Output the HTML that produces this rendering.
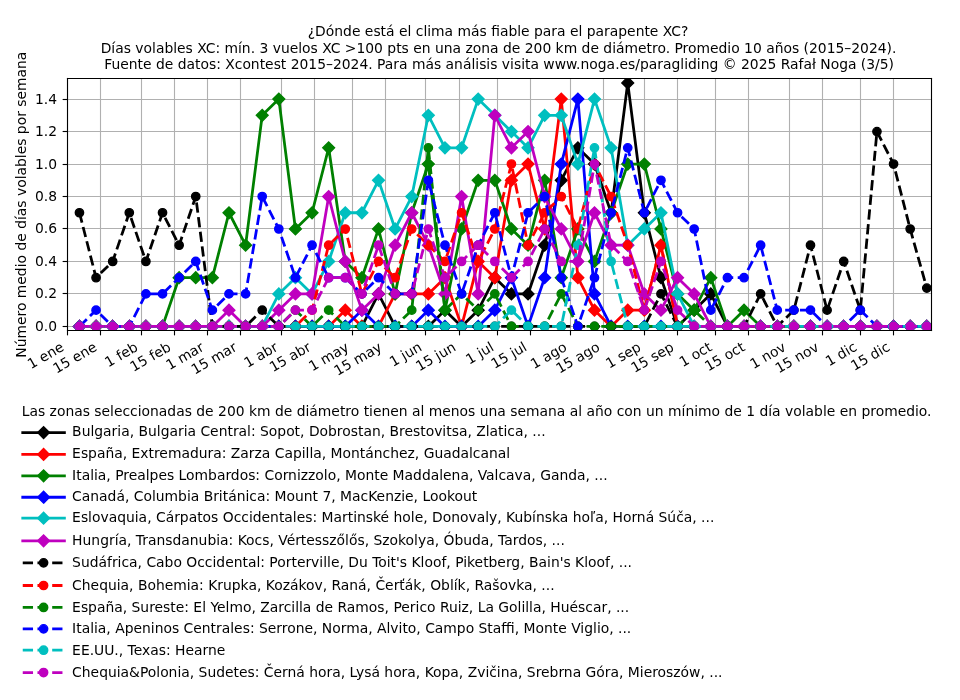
<!DOCTYPE html>
<html><head><meta charset="utf-8"><title>Parapente XC</title>
<style>
html,body{margin:0;padding:0;background:#fff;width:960px;height:700px;overflow:hidden}
svg{display:block;will-change:transform}
svg text{font-family:"DejaVu Sans","Liberation Sans",sans-serif}
</style></head><body>
<svg width="960" height="700" viewBox="0 0 691.2 504" version="1.1">
 <defs>
  <style type="text/css">*{stroke-linejoin: round; stroke-linecap: butt}</style>
 </defs>
 <g id="figure_1">
  <g id="patch_1">
   <path d="M 0 504 
L 691.2 504 
L 691.2 0 
L 0 0 
z
" style="fill: #ffffff"/>
  </g>
  <g id="axes_1">
   <g id="patch_2">
    <path d="M 48.6 237.96 
L 670.68 237.96 
L 670.68 56.52 
L 48.6 56.52 
z
" style="fill: #ffffff"/>
   </g>
   <g id="matplotlib.axis_1">
    <g id="xtick_1">
     <g id="line2d_1">
      <path d="M 48.6 237.96 
L 48.6 56.52 
" clip-path="url(#p76684aa1a0)" style="fill: none; stroke: #b0b0b0; stroke-width: 0.8; stroke-linecap: square"/>
     </g>
     <g id="line2d_2">
      <g>
       <path d="M48.6 237.96L48.6 241.46" style="stroke: #000000; stroke-width: 0.8"/>
      </g>
     </g>
     <g id="xtl0" transform="translate(-0.792 0.288)">
      <text style="font-size: 10px; font-family: 'DejaVu Sans', 'Liberation Sans', sans-serif" transform="translate(23.151772 265.632627) rotate(-30)">1 ene</text>
     </g>
    </g>
    <g id="xtick_2">
     <g id="line2d_3">
      <path d="M 72.36 237.96 
L 72.36 56.52 
" clip-path="url(#p76684aa1a0)" style="fill: none; stroke: #b0b0b0; stroke-width: 0.8; stroke-linecap: square"/>
     </g>
     <g id="line2d_4">
      <g>
       <path d="M72.36 237.96L72.36 241.46" style="stroke: #000000; stroke-width: 0.8"/>
      </g>
     </g>
     <g id="xtl1" transform="translate(-0.792 0.288)">
      <text style="font-size: 10px; font-family: 'DejaVu Sans', 'Liberation Sans', sans-serif" transform="translate(41.401685 268.813877) rotate(-30)">15 ene</text>
     </g>
    </g>
    <g id="xtick_3">
     <g id="line2d_5">
      <path d="M 101.88 237.96 
L 101.88 56.52 
" clip-path="url(#p76684aa1a0)" style="fill: none; stroke: #b0b0b0; stroke-width: 0.8; stroke-linecap: square"/>
     </g>
     <g id="line2d_6">
      <g>
       <path d="M101.88 237.96L101.88 241.46" style="stroke: #000000; stroke-width: 0.8"/>
      </g>
     </g>
     <g id="xtl2" transform="translate(-0.792 0.288)">
      <text style="font-size: 10px; font-family: 'DejaVu Sans', 'Liberation Sans', sans-serif" transform="translate(78.702382 264.32169) rotate(-30)">1 feb</text>
     </g>
    </g>
    <g id="xtick_4">
     <g id="line2d_7">
      <path d="M 125.64 237.96 
L 125.64 56.52 
" clip-path="url(#p76684aa1a0)" style="fill: none; stroke: #b0b0b0; stroke-width: 0.8; stroke-linecap: square"/>
     </g>
     <g id="line2d_8">
      <g>
       <path d="M125.64 237.96L125.64 241.46" style="stroke: #000000; stroke-width: 0.8"/>
      </g>
     </g>
     <g id="xtl3" transform="translate(-0.792 0.288)">
      <text style="font-size: 10px; font-family: 'DejaVu Sans', 'Liberation Sans', sans-serif" transform="translate(96.952295 267.50294) rotate(-30)">15 feb</text>
     </g>
    </g>
    <g id="xtick_5">
     <g id="line2d_9">
      <path d="M 149.4 237.96 
L 149.4 56.52 
" clip-path="url(#p76684aa1a0)" style="fill: none; stroke: #b0b0b0; stroke-width: 0.8; stroke-linecap: square"/>
     </g>
     <g id="line2d_10">
      <g>
       <path d="M149.4 237.96L149.4 241.46" style="stroke: #000000; stroke-width: 0.8"/>
      </g>
     </g>
     <g id="xtl4" transform="translate(-0.792 0.288)">
      <text style="font-size: 10px; font-family: 'DejaVu Sans', 'Liberation Sans', sans-serif" transform="translate(122.794816 266.300596) rotate(-30)">1 mar</text>
     </g>
    </g>
    <g id="xtick_6">
     <g id="line2d_11">
      <path d="M 173.16 237.96 
L 173.16 56.52 
" clip-path="url(#p76684aa1a0)" style="fill: none; stroke: #b0b0b0; stroke-width: 0.8; stroke-linecap: square"/>
     </g>
     <g id="line2d_12">
      <g>
       <path d="M173.16 237.96L173.16 241.46" style="stroke: #000000; stroke-width: 0.8"/>
      </g>
     </g>
     <g id="xtl5" transform="translate(-0.792 0.288)">
      <text style="font-size: 10px; font-family: 'DejaVu Sans', 'Liberation Sans', sans-serif" transform="translate(141.044729 269.481846) rotate(-30)">15 mar</text>
     </g>
    </g>
    <g id="xtick_7">
     <g id="line2d_13">
      <path d="M 202.68 237.96 
L 202.68 56.52 
" clip-path="url(#p76684aa1a0)" style="fill: none; stroke: #b0b0b0; stroke-width: 0.8; stroke-linecap: square"/>
     </g>
     <g id="line2d_14">
      <g>
       <path d="M202.68 237.96L202.68 241.46" style="stroke: #000000; stroke-width: 0.8"/>
      </g>
     </g>
     <g id="xtl6" transform="translate(-0.792 0.288)">
      <text style="font-size: 10px; font-family: 'DejaVu Sans', 'Liberation Sans', sans-serif" transform="translate(179.012536 264.604502) rotate(-30)">1 abr</text>
     </g>
    </g>
    <g id="xtick_8">
     <g id="line2d_15">
      <path d="M 226.44 237.96 
L 226.44 56.52 
" clip-path="url(#p76684aa1a0)" style="fill: none; stroke: #b0b0b0; stroke-width: 0.8; stroke-linecap: square"/>
     </g>
     <g id="line2d_16">
      <g>
       <path d="M226.44 237.96L226.44 241.46" style="stroke: #000000; stroke-width: 0.8"/>
      </g>
     </g>
     <g id="xtl7" transform="translate(-0.792 0.288)">
      <text style="font-size: 10px; font-family: 'DejaVu Sans', 'Liberation Sans', sans-serif" transform="translate(197.26245 267.785752) rotate(-30)">15 abr</text>
     </g>
    </g>
    <g id="xtick_9">
     <g id="line2d_17">
      <path d="M 253.8 237.96 
L 253.8 56.52 
" clip-path="url(#p76684aa1a0)" style="fill: none; stroke: #b0b0b0; stroke-width: 0.8; stroke-linecap: square"/>
     </g>
     <g id="line2d_18">
      <g>
       <path d="M253.8 237.96L253.8 241.46" style="stroke: #000000; stroke-width: 0.8"/>
      </g>
     </g>
     <g id="xtl8" transform="translate(-0.792 0.288)">
      <text style="font-size: 10px; font-family: 'DejaVu Sans', 'Liberation Sans', sans-serif" transform="translate(225.629204 267.204502) rotate(-30)">1 may</text>
     </g>
    </g>
    <g id="xtick_10">
     <g id="line2d_19">
      <path d="M 277.56 237.96 
L 277.56 56.52 
" clip-path="url(#p76684aa1a0)" style="fill: none; stroke: #b0b0b0; stroke-width: 0.8; stroke-linecap: square"/>
     </g>
     <g id="line2d_20">
      <g>
       <path d="M277.56 237.96L277.56 241.46" style="stroke: #000000; stroke-width: 0.8"/>
      </g>
     </g>
     <g id="xtl9" transform="translate(-0.792 0.288)">
      <text style="font-size: 10px; font-family: 'DejaVu Sans', 'Liberation Sans', sans-serif" transform="translate(243.879118 270.385752) rotate(-30)">15 may</text>
     </g>
    </g>
    <g id="xtick_11">
     <g id="line2d_21">
      <path d="M 306.36 237.96 
L 306.36 56.52 
" clip-path="url(#p76684aa1a0)" style="fill: none; stroke: #b0b0b0; stroke-width: 0.8; stroke-linecap: square"/>
     </g>
     <g id="line2d_22">
      <g>
       <path d="M306.36 237.96L306.36 241.46" style="stroke: #000000; stroke-width: 0.8"/>
      </g>
     </g>
     <g id="xtl10" transform="translate(-0.792 0.288)">
      <text style="font-size: 10px; font-family: 'DejaVu Sans', 'Liberation Sans', sans-serif" transform="translate(283.674934 264.037315) rotate(-30)">1 jun</text>
     </g>
    </g>
    <g id="xtick_12">
     <g id="line2d_23">
      <path d="M 330.84 237.96 
L 330.84 56.52 
" clip-path="url(#p76684aa1a0)" style="fill: none; stroke: #b0b0b0; stroke-width: 0.8; stroke-linecap: square"/>
     </g>
     <g id="line2d_24">
      <g>
       <path d="M330.84 237.96L330.84 241.46" style="stroke: #000000; stroke-width: 0.8"/>
      </g>
     </g>
     <g id="xtl11" transform="translate(-0.792 0.288)">
      <text style="font-size: 10px; font-family: 'DejaVu Sans', 'Liberation Sans', sans-serif" transform="translate(302.644847 267.218565) rotate(-30)">15 jun</text>
     </g>
    </g>
    <g id="xtick_13">
     <g id="line2d_25">
      <path d="M 358.2 237.96 
L 358.2 56.52 
" clip-path="url(#p76684aa1a0)" style="fill: none; stroke: #b0b0b0; stroke-width: 0.8; stroke-linecap: square"/>
     </g>
     <g id="line2d_26">
      <g>
       <path d="M358.2 237.96L358.2 241.46" style="stroke: #000000; stroke-width: 0.8"/>
      </g>
     </g>
     <g id="xtl12" transform="translate(-0.792 0.288)">
      <text style="font-size: 10px; font-family: 'DejaVu Sans', 'Liberation Sans', sans-serif" transform="translate(338.597443 262.257627) rotate(-30)">1 jul</text>
     </g>
    </g>
    <g id="xtick_14">
     <g id="line2d_27">
      <path d="M 381.96 237.96 
L 381.96 56.52 
" clip-path="url(#p76684aa1a0)" style="fill: none; stroke: #b0b0b0; stroke-width: 0.8; stroke-linecap: square"/>
     </g>
     <g id="line2d_28">
      <g>
       <path d="M381.96 237.96L381.96 241.46" style="stroke: #000000; stroke-width: 0.8"/>
      </g>
     </g>
     <g id="xtl13" transform="translate(-0.792 0.288)">
      <text style="font-size: 10px; font-family: 'DejaVu Sans', 'Liberation Sans', sans-serif" transform="translate(356.847356 265.438877) rotate(-30)">15 jul</text>
     </g>
    </g>
    <g id="xtick_15">
     <g id="line2d_29">
      <path d="M 410.76 237.96 
L 410.76 56.52 
" clip-path="url(#p76684aa1a0)" style="fill: none; stroke: #b0b0b0; stroke-width: 0.8; stroke-linecap: square"/>
     </g>
     <g id="line2d_30">
      <g>
       <path d="M410.76 237.96L410.76 241.46" style="stroke: #000000; stroke-width: 0.8"/>
      </g>
     </g>
     <g id="xtl14" transform="translate(-0.792 0.288)">
      <text style="font-size: 10px; font-family: 'DejaVu Sans', 'Liberation Sans', sans-serif" transform="translate(385.35372 265.608409) rotate(-30)">1 ago</text>
     </g>
    </g>
    <g id="xtick_16">
     <g id="line2d_31">
      <path d="M 434.52 237.96 
L 434.52 56.52 
" clip-path="url(#p76684aa1a0)" style="fill: none; stroke: #b0b0b0; stroke-width: 0.8; stroke-linecap: square"/>
     </g>
     <g id="line2d_32">
      <g>
       <path d="M434.52 237.96L434.52 241.46" style="stroke: #000000; stroke-width: 0.8"/>
      </g>
     </g>
     <g id="xtl15" transform="translate(-0.792 0.288)">
      <text style="font-size: 10px; font-family: 'DejaVu Sans', 'Liberation Sans', sans-serif" transform="translate(403.603633 268.789659) rotate(-30)">15 ago</text>
     </g>
    </g>
    <g id="xtick_17">
     <g id="line2d_33">
      <path d="M 464.04 237.96 
L 464.04 56.52 
" clip-path="url(#p76684aa1a0)" style="fill: none; stroke: #b0b0b0; stroke-width: 0.8; stroke-linecap: square"/>
     </g>
     <g id="line2d_34">
      <g>
       <path d="M464.04 237.96L464.04 241.46" style="stroke: #000000; stroke-width: 0.8"/>
      </g>
     </g>
     <g id="xtl16" transform="translate(-0.792 0.288)">
      <text style="font-size: 10px; font-family: 'DejaVu Sans', 'Liberation Sans', sans-serif" transform="translate(439.399611 265.166221) rotate(-30)">1 sep</text>
     </g>
    </g>
    <g id="xtick_18">
     <g id="line2d_35">
      <path d="M 487.8 237.96 
L 487.8 56.52 
" clip-path="url(#p76684aa1a0)" style="fill: none; stroke: #b0b0b0; stroke-width: 0.8; stroke-linecap: square"/>
     </g>
     <g id="line2d_36">
      <g>
       <path d="M487.8 237.96L487.8 241.46" style="stroke: #000000; stroke-width: 0.8"/>
      </g>
     </g>
     <g id="xtl17" transform="translate(-0.792 0.288)">
      <text style="font-size: 10px; font-family: 'DejaVu Sans', 'Liberation Sans', sans-serif" transform="translate(457.649524 268.347471) rotate(-30)">15 sep</text>
     </g>
    </g>
    <g id="xtick_19">
     <g id="line2d_37">
      <path d="M 515.16 237.96 
L 515.16 56.52 
" clip-path="url(#p76684aa1a0)" style="fill: none; stroke: #b0b0b0; stroke-width: 0.8; stroke-linecap: square"/>
     </g>
     <g id="line2d_38">
      <g>
       <path d="M515.16 237.96L515.16 241.46" style="stroke: #000000; stroke-width: 0.8"/>
      </g>
     </g>
     <g id="xtl18" transform="translate(-0.792 0.288)">
      <text style="font-size: 10px; font-family: 'DejaVu Sans', 'Liberation Sans', sans-serif" transform="translate(492.401863 264.079502) rotate(-30)">1 oct</text>
     </g>
    </g>
    <g id="xtick_20">
     <g id="line2d_39">
      <path d="M 538.92 237.96 
L 538.92 56.52 
" clip-path="url(#p76684aa1a0)" style="fill: none; stroke: #b0b0b0; stroke-width: 0.8; stroke-linecap: square"/>
     </g>
     <g id="line2d_40">
      <g>
       <path d="M538.92 237.96L538.92 241.46" style="stroke: #000000; stroke-width: 0.8"/>
      </g>
     </g>
     <g id="xtl19" transform="translate(-0.792 0.288)">
      <text style="font-size: 10px; font-family: 'DejaVu Sans', 'Liberation Sans', sans-serif" transform="translate(510.651776 267.260752) rotate(-30)">15 oct</text>
     </g>
    </g>
    <g id="xtick_21">
     <g id="line2d_41">
      <path d="M 568.44 237.96 
L 568.44 56.52 
" clip-path="url(#p76684aa1a0)" style="fill: none; stroke: #b0b0b0; stroke-width: 0.8; stroke-linecap: square"/>
     </g>
     <g id="line2d_42">
      <g>
       <path d="M568.44 237.96L568.44 241.46" style="stroke: #000000; stroke-width: 0.8"/>
      </g>
     </g>
     <g id="xtl20" transform="translate(-0.792 0.288)">
      <text style="font-size: 10px; font-family: 'DejaVu Sans', 'Liberation Sans', sans-serif" transform="translate(543.224516 265.498252) rotate(-30)">1 nov</text>
     </g>
    </g>
    <g id="xtick_22">
     <g id="line2d_43">
      <path d="M 592.2 237.96 
L 592.2 56.52 
" clip-path="url(#p76684aa1a0)" style="fill: none; stroke: #b0b0b0; stroke-width: 0.8; stroke-linecap: square"/>
     </g>
     <g id="line2d_44">
      <g>
       <path d="M592.2 237.96L592.2 241.46" style="stroke: #000000; stroke-width: 0.8"/>
      </g>
     </g>
     <g id="xtl21" transform="translate(-0.792 0.288)">
      <text style="font-size: 10px; font-family: 'DejaVu Sans', 'Liberation Sans', sans-serif" transform="translate(561.474429 268.679502) rotate(-30)">15 nov</text>
     </g>
    </g>
    <g id="xtick_23">
     <g id="line2d_45">
      <path d="M 619.56 237.96 
L 619.56 56.52 
" clip-path="url(#p76684aa1a0)" style="fill: none; stroke: #b0b0b0; stroke-width: 0.8; stroke-linecap: square"/>
     </g>
     <g id="line2d_46">
      <g>
       <path d="M619.56 237.96L619.56 241.46" style="stroke: #000000; stroke-width: 0.8"/>
      </g>
     </g>
     <g id="xtl22" transform="translate(-0.792 0.288)">
      <text style="font-size: 10px; font-family: 'DejaVu Sans', 'Liberation Sans', sans-serif" transform="translate(597.592111 263.623252) rotate(-30)">1 dic</text>
     </g>
    </g>
    <g id="xtick_24">
     <g id="line2d_47">
      <path d="M 643.32 237.96 
L 643.32 56.52 
" clip-path="url(#p76684aa1a0)" style="fill: none; stroke: #b0b0b0; stroke-width: 0.8; stroke-linecap: square"/>
     </g>
     <g id="line2d_48">
      <g>
       <path d="M643.32 237.96L643.32 241.46" style="stroke: #000000; stroke-width: 0.8"/>
      </g>
     </g>
     <g id="xtl23" transform="translate(-0.792 0.288)">
      <text style="font-size: 10px; font-family: 'DejaVu Sans', 'Liberation Sans', sans-serif" transform="translate(615.842024 266.804502) rotate(-30)">15 dic</text>
     </g>
    </g>
   </g>
   <g id="matplotlib.axis_2">
    <g id="ytick_1">
     <g id="line2d_49">
      <path d="M 48.6 235.08 
L 670.68 235.08 
" clip-path="url(#p76684aa1a0)" style="fill: none; stroke: #b0b0b0; stroke-width: 0.8; stroke-linecap: square"/>
     </g>
     <g id="line2d_50">
      <g>
       <path d="M48.6 235.08L45.1 235.08" style="stroke: #000000; stroke-width: 0.8"/>
      </g>
     </g>
     <g id="ytl0" transform="translate(-0.504 -0.432)">
      <text style="font-size: 10px; font-family: 'DejaVu Sans', 'Liberation Sans', sans-serif; text-anchor: end" x="41.6" y="238.879219" transform="rotate(-0 41.6 238.879219)">0.0</text>
     </g>
    </g>
    <g id="ytick_2">
     <g id="line2d_51">
      <path d="M 48.6 211.32 
L 670.68 211.32 
" clip-path="url(#p76684aa1a0)" style="fill: none; stroke: #b0b0b0; stroke-width: 0.8; stroke-linecap: square"/>
     </g>
     <g id="line2d_52">
      <g>
       <path d="M48.6 211.32L45.1 211.32" style="stroke: #000000; stroke-width: 0.8"/>
      </g>
     </g>
     <g id="ytl1" transform="translate(-0.504 -0.432)">
      <text style="font-size: 10px; font-family: 'DejaVu Sans', 'Liberation Sans', sans-serif; text-anchor: end" x="41.6" y="215.119219" transform="rotate(-0 41.6 215.119219)">0.2</text>
     </g>
    </g>
    <g id="ytick_3">
     <g id="line2d_53">
      <path d="M 48.6 188.28 
L 670.68 188.28 
" clip-path="url(#p76684aa1a0)" style="fill: none; stroke: #b0b0b0; stroke-width: 0.8; stroke-linecap: square"/>
     </g>
     <g id="line2d_54">
      <g>
       <path d="M48.6 188.28L45.1 188.28" style="stroke: #000000; stroke-width: 0.8"/>
      </g>
     </g>
     <g id="ytl2" transform="translate(-0.504 -0.432)">
      <text style="font-size: 10px; font-family: 'DejaVu Sans', 'Liberation Sans', sans-serif; text-anchor: end" x="41.6" y="192.079219" transform="rotate(-0 41.6 192.079219)">0.4</text>
     </g>
    </g>
    <g id="ytick_4">
     <g id="line2d_55">
      <path d="M 48.6 164.52 
L 670.68 164.52 
" clip-path="url(#p76684aa1a0)" style="fill: none; stroke: #b0b0b0; stroke-width: 0.8; stroke-linecap: square"/>
     </g>
     <g id="line2d_56">
      <g>
       <path d="M48.6 164.52L45.1 164.52" style="stroke: #000000; stroke-width: 0.8"/>
      </g>
     </g>
     <g id="ytl3" transform="translate(-0.504 -0.432)">
      <text style="font-size: 10px; font-family: 'DejaVu Sans', 'Liberation Sans', sans-serif; text-anchor: end" x="41.6" y="168.319219" transform="rotate(-0 41.6 168.319219)">0.6</text>
     </g>
    </g>
    <g id="ytick_5">
     <g id="line2d_57">
      <path d="M 48.6 141.48 
L 670.68 141.48 
" clip-path="url(#p76684aa1a0)" style="fill: none; stroke: #b0b0b0; stroke-width: 0.8; stroke-linecap: square"/>
     </g>
     <g id="line2d_58">
      <g>
       <path d="M48.6 141.48L45.1 141.48" style="stroke: #000000; stroke-width: 0.8"/>
      </g>
     </g>
     <g id="ytl4" transform="translate(-0.504 -0.432)">
      <text style="font-size: 10px; font-family: 'DejaVu Sans', 'Liberation Sans', sans-serif; text-anchor: end" x="41.6" y="145.279219" transform="rotate(-0 41.6 145.279219)">0.8</text>
     </g>
    </g>
    <g id="ytick_6">
     <g id="line2d_59">
      <path d="M 48.6 118.44 
L 670.68 118.44 
" clip-path="url(#p76684aa1a0)" style="fill: none; stroke: #b0b0b0; stroke-width: 0.8; stroke-linecap: square"/>
     </g>
     <g id="line2d_60">
      <g>
       <path d="M48.6 118.44L45.1 118.44" style="stroke: #000000; stroke-width: 0.8"/>
      </g>
     </g>
     <g id="ytl5" transform="translate(-0.504 -0.432)">
      <text style="font-size: 10px; font-family: 'DejaVu Sans', 'Liberation Sans', sans-serif; text-anchor: end" x="41.6" y="122.239219" transform="rotate(-0 41.6 122.239219)">1.0</text>
     </g>
    </g>
    <g id="ytick_7">
     <g id="line2d_61">
      <path d="M 48.6 94.68 
L 670.68 94.68 
" clip-path="url(#p76684aa1a0)" style="fill: none; stroke: #b0b0b0; stroke-width: 0.8; stroke-linecap: square"/>
     </g>
     <g id="line2d_62">
      <g>
       <path d="M48.6 94.68L45.1 94.68" style="stroke: #000000; stroke-width: 0.8"/>
      </g>
     </g>
     <g id="ytl6" transform="translate(-0.504 -0.432)">
      <text style="font-size: 10px; font-family: 'DejaVu Sans', 'Liberation Sans', sans-serif; text-anchor: end" x="41.6" y="98.479219" transform="rotate(-0 41.6 98.479219)">1.2</text>
     </g>
    </g>
    <g id="ytick_8">
     <g id="line2d_63">
      <path d="M 48.6 71.64 
L 670.68 71.64 
" clip-path="url(#p76684aa1a0)" style="fill: none; stroke: #b0b0b0; stroke-width: 0.8; stroke-linecap: square"/>
     </g>
     <g id="line2d_64">
      <g>
       <path d="M48.6 71.64L45.1 71.64" style="stroke: #000000; stroke-width: 0.8"/>
      </g>
     </g>
     <g id="ytl7" transform="translate(-0.504 -0.432)">
      <text style="font-size: 10px; font-family: 'DejaVu Sans', 'Liberation Sans', sans-serif; text-anchor: end" x="41.6" y="75.439219" transform="rotate(-0 41.6 75.439219)">1.4</text>
     </g>
    </g>
    <g id="ylabel" transform="translate(-0.792 0.144)">
     <text style="font-size: 10px; font-family: 'DejaVu Sans', 'Liberation Sans', sans-serif; text-anchor: middle" x="19.617187" y="147.24" transform="rotate(-90 19.617187 147.24)">Número medio de días volables por semana</text>
    </g>
   </g>
   <g id="line2d_65">
    <path d="M 57.204 235.008 
L 69.16644 235.008 
L 81.12888 235.008 
L 93.09132 235.008 
L 105.05376 235.008 
L 117.0162 235.008 
L 128.97864 235.008 
L 140.94108 235.008 
L 152.90352 235.008 
L 164.86596 235.008 
L 176.8284 235.008 
L 188.79084 235.008 
L 200.75328 235.008 
L 212.71572 235.008 
L 224.67816 235.008 
L 236.6406 235.008 
L 248.60304 235.008 
L 260.56548 235.008 
L 272.52792 211.6296 
L 284.49036 235.008 
L 296.4528 235.008 
L 308.41524 235.008 
L 320.37768 223.3188 
L 332.34012 235.008 
L 344.30256 223.3188 
L 356.265 199.9404 
L 368.22744 211.6296 
L 380.18988 211.6296 
L 392.15232 176.562 
L 404.11476 129.8052 
L 416.0772 106.4268 
L 428.03964 118.116 
L 440.00208 153.1836 
L 451.96452 59.67 
L 463.92696 153.1836 
L 475.8894 199.9404 
L 487.85184 235.008 
L 499.81428 223.3188 
L 511.77672 211.6296 
L 523.73916 235.008 
L 535.7016 235.008 
L 547.66404 235.008 
L 559.62648 235.008 
L 571.58892 235.008 
L 583.55136 235.008 
L 595.5138 235.008 
L 607.47624 235.008 
L 619.43868 235.008 
L 631.40112 235.008 
L 643.36356 235.008 
L 655.326 235.008 
L 667.28844 235.008 
" clip-path="url(#p76684aa1a0)" style="fill: none; stroke: #000000; stroke-width: 2; stroke-linecap: square"/>
    <g clip-path="url(#p76684aa1a0)">
     <path d="M57.204 239.251L61.447 235.008L57.204 230.765L52.961 235.008z" style="stroke: #000000; stroke-linejoin: miter"/>
     <path d="M69.166 239.251L73.409 235.008L69.166 230.765L64.924 235.008z" style="stroke: #000000; stroke-linejoin: miter"/>
     <path d="M81.129 239.251L85.372 235.008L81.129 230.765L76.886 235.008z" style="stroke: #000000; stroke-linejoin: miter"/>
     <path d="M93.091 239.251L97.334 235.008L93.091 230.765L88.849 235.008z" style="stroke: #000000; stroke-linejoin: miter"/>
     <path d="M105.054 239.251L109.296 235.008L105.054 230.765L100.811 235.008z" style="stroke: #000000; stroke-linejoin: miter"/>
     <path d="M117.016 239.251L121.259 235.008L117.016 230.765L112.774 235.008z" style="stroke: #000000; stroke-linejoin: miter"/>
     <path d="M128.979 239.251L133.221 235.008L128.979 230.765L124.736 235.008z" style="stroke: #000000; stroke-linejoin: miter"/>
     <path d="M140.941 239.251L145.184 235.008L140.941 230.765L136.698 235.008z" style="stroke: #000000; stroke-linejoin: miter"/>
     <path d="M152.904 239.251L157.146 235.008L152.904 230.765L148.661 235.008z" style="stroke: #000000; stroke-linejoin: miter"/>
     <path d="M164.866 239.251L169.109 235.008L164.866 230.765L160.623 235.008z" style="stroke: #000000; stroke-linejoin: miter"/>
     <path d="M176.828 239.251L181.071 235.008L176.828 230.765L172.586 235.008z" style="stroke: #000000; stroke-linejoin: miter"/>
     <path d="M188.791 239.251L193.033 235.008L188.791 230.765L184.548 235.008z" style="stroke: #000000; stroke-linejoin: miter"/>
     <path d="M200.753 239.251L204.996 235.008L200.753 230.765L196.511 235.008z" style="stroke: #000000; stroke-linejoin: miter"/>
     <path d="M212.716 239.251L216.958 235.008L212.716 230.765L208.473 235.008z" style="stroke: #000000; stroke-linejoin: miter"/>
     <path d="M224.678 239.251L228.921 235.008L224.678 230.765L220.436 235.008z" style="stroke: #000000; stroke-linejoin: miter"/>
     <path d="M236.641 239.251L240.883 235.008L236.641 230.765L232.398 235.008z" style="stroke: #000000; stroke-linejoin: miter"/>
     <path d="M248.603 239.251L252.846 235.008L248.603 230.765L244.36 235.008z" style="stroke: #000000; stroke-linejoin: miter"/>
     <path d="M260.565 239.251L264.808 235.008L260.565 230.765L256.323 235.008z" style="stroke: #000000; stroke-linejoin: miter"/>
     <path d="M272.528 215.872L276.771 211.63L272.528 207.387L268.285 211.63z" style="stroke: #000000; stroke-linejoin: miter"/>
     <path d="M284.49 239.251L288.733 235.008L284.49 230.765L280.248 235.008z" style="stroke: #000000; stroke-linejoin: miter"/>
     <path d="M296.453 239.251L300.695 235.008L296.453 230.765L292.21 235.008z" style="stroke: #000000; stroke-linejoin: miter"/>
     <path d="M308.415 239.251L312.658 235.008L308.415 230.765L304.173 235.008z" style="stroke: #000000; stroke-linejoin: miter"/>
     <path d="M320.378 227.561L324.62 223.319L320.378 219.076L316.135 223.319z" style="stroke: #000000; stroke-linejoin: miter"/>
     <path d="M332.34 239.251L336.583 235.008L332.34 230.765L328.097 235.008z" style="stroke: #000000; stroke-linejoin: miter"/>
     <path d="M344.303 227.561L348.545 223.319L344.303 219.076L340.06 223.319z" style="stroke: #000000; stroke-linejoin: miter"/>
     <path d="M356.265 204.183L360.508 199.94L356.265 195.698L352.022 199.94z" style="stroke: #000000; stroke-linejoin: miter"/>
     <path d="M368.227 215.872L372.47 211.63L368.227 207.387L363.985 211.63z" style="stroke: #000000; stroke-linejoin: miter"/>
     <path d="M380.19 215.872L384.433 211.63L380.19 207.387L375.947 211.63z" style="stroke: #000000; stroke-linejoin: miter"/>
     <path d="M392.152 180.805L396.395 176.562L392.152 172.319L387.91 176.562z" style="stroke: #000000; stroke-linejoin: miter"/>
     <path d="M404.115 134.048L408.357 129.805L404.115 125.563L399.872 129.805z" style="stroke: #000000; stroke-linejoin: miter"/>
     <path d="M416.077 110.669L420.32 106.427L416.077 102.184L411.835 106.427z" style="stroke: #000000; stroke-linejoin: miter"/>
     <path d="M428.04 122.359L432.282 118.116L428.04 113.873L423.797 118.116z" style="stroke: #000000; stroke-linejoin: miter"/>
     <path d="M440.002 157.426L444.245 153.184L440.002 148.941L435.759 153.184z" style="stroke: #000000; stroke-linejoin: miter"/>
     <path d="M451.965 63.913L456.207 59.67L451.965 55.427L447.722 59.67z" style="stroke: #000000; stroke-linejoin: miter"/>
     <path d="M463.927 157.426L468.17 153.184L463.927 148.941L459.684 153.184z" style="stroke: #000000; stroke-linejoin: miter"/>
     <path d="M475.889 204.183L480.132 199.94L475.889 195.698L471.647 199.94z" style="stroke: #000000; stroke-linejoin: miter"/>
     <path d="M487.852 239.251L492.094 235.008L487.852 230.765L483.609 235.008z" style="stroke: #000000; stroke-linejoin: miter"/>
     <path d="M499.814 227.561L504.057 223.319L499.814 219.076L495.572 223.319z" style="stroke: #000000; stroke-linejoin: miter"/>
     <path d="M511.777 215.872L516.019 211.63L511.777 207.387L507.534 211.63z" style="stroke: #000000; stroke-linejoin: miter"/>
     <path d="M523.739 239.251L527.982 235.008L523.739 230.765L519.497 235.008z" style="stroke: #000000; stroke-linejoin: miter"/>
     <path d="M535.702 239.251L539.944 235.008L535.702 230.765L531.459 235.008z" style="stroke: #000000; stroke-linejoin: miter"/>
     <path d="M547.664 239.251L551.907 235.008L547.664 230.765L543.421 235.008z" style="stroke: #000000; stroke-linejoin: miter"/>
     <path d="M559.626 239.251L563.869 235.008L559.626 230.765L555.384 235.008z" style="stroke: #000000; stroke-linejoin: miter"/>
     <path d="M571.589 239.251L575.832 235.008L571.589 230.765L567.346 235.008z" style="stroke: #000000; stroke-linejoin: miter"/>
     <path d="M583.551 239.251L587.794 235.008L583.551 230.765L579.309 235.008z" style="stroke: #000000; stroke-linejoin: miter"/>
     <path d="M595.514 239.251L599.756 235.008L595.514 230.765L591.271 235.008z" style="stroke: #000000; stroke-linejoin: miter"/>
     <path d="M607.476 239.251L611.719 235.008L607.476 230.765L603.234 235.008z" style="stroke: #000000; stroke-linejoin: miter"/>
     <path d="M619.439 239.251L623.681 235.008L619.439 230.765L615.196 235.008z" style="stroke: #000000; stroke-linejoin: miter"/>
     <path d="M631.401 239.251L635.644 235.008L631.401 230.765L627.158 235.008z" style="stroke: #000000; stroke-linejoin: miter"/>
     <path d="M643.364 239.251L647.606 235.008L643.364 230.765L639.121 235.008z" style="stroke: #000000; stroke-linejoin: miter"/>
     <path d="M655.326 239.251L659.569 235.008L655.326 230.765L651.083 235.008z" style="stroke: #000000; stroke-linejoin: miter"/>
     <path d="M667.288 239.251L671.531 235.008L667.288 230.765L663.046 235.008z" style="stroke: #000000; stroke-linejoin: miter"/>
    </g>
   </g>
   <g id="line2d_66">
    <path d="M 57.204 235.008 
L 69.16644 235.008 
L 81.12888 235.008 
L 93.09132 235.008 
L 105.05376 235.008 
L 117.0162 235.008 
L 128.97864 235.008 
L 140.94108 235.008 
L 152.90352 235.008 
L 164.86596 235.008 
L 176.8284 235.008 
L 188.79084 235.008 
L 200.75328 235.008 
L 212.71572 235.008 
L 224.67816 235.008 
L 236.6406 235.008 
L 248.60304 223.3188 
L 260.56548 235.008 
L 272.52792 235.008 
L 284.49036 211.6296 
L 296.4528 211.6296 
L 308.41524 211.6296 
L 320.37768 199.9404 
L 332.34012 235.008 
L 344.30256 188.2512 
L 356.265 199.9404 
L 368.22744 129.8052 
L 380.18988 118.116 
L 392.15232 164.8728 
L 404.11476 71.3592 
L 416.0772 199.9404 
L 428.03964 223.3188 
L 440.00208 235.008 
L 451.96452 223.3188 
L 463.92696 223.3188 
L 475.8894 176.562 
L 487.85184 235.008 
L 499.81428 235.008 
L 511.77672 235.008 
L 523.73916 235.008 
L 535.7016 235.008 
L 547.66404 235.008 
L 559.62648 235.008 
L 571.58892 235.008 
L 583.55136 235.008 
L 595.5138 235.008 
L 607.47624 235.008 
L 619.43868 235.008 
L 631.40112 235.008 
L 643.36356 235.008 
L 655.326 235.008 
L 667.28844 235.008 
" clip-path="url(#p76684aa1a0)" style="fill: none; stroke: #ff0000; stroke-width: 2; stroke-linecap: square"/>
    <g clip-path="url(#p76684aa1a0)">
     <path d="M57.204 239.251L61.447 235.008L57.204 230.765L52.961 235.008z" style="fill: #ff0000; stroke: #ff0000; stroke-linejoin: miter"/>
     <path d="M69.166 239.251L73.409 235.008L69.166 230.765L64.924 235.008z" style="fill: #ff0000; stroke: #ff0000; stroke-linejoin: miter"/>
     <path d="M81.129 239.251L85.372 235.008L81.129 230.765L76.886 235.008z" style="fill: #ff0000; stroke: #ff0000; stroke-linejoin: miter"/>
     <path d="M93.091 239.251L97.334 235.008L93.091 230.765L88.849 235.008z" style="fill: #ff0000; stroke: #ff0000; stroke-linejoin: miter"/>
     <path d="M105.054 239.251L109.296 235.008L105.054 230.765L100.811 235.008z" style="fill: #ff0000; stroke: #ff0000; stroke-linejoin: miter"/>
     <path d="M117.016 239.251L121.259 235.008L117.016 230.765L112.774 235.008z" style="fill: #ff0000; stroke: #ff0000; stroke-linejoin: miter"/>
     <path d="M128.979 239.251L133.221 235.008L128.979 230.765L124.736 235.008z" style="fill: #ff0000; stroke: #ff0000; stroke-linejoin: miter"/>
     <path d="M140.941 239.251L145.184 235.008L140.941 230.765L136.698 235.008z" style="fill: #ff0000; stroke: #ff0000; stroke-linejoin: miter"/>
     <path d="M152.904 239.251L157.146 235.008L152.904 230.765L148.661 235.008z" style="fill: #ff0000; stroke: #ff0000; stroke-linejoin: miter"/>
     <path d="M164.866 239.251L169.109 235.008L164.866 230.765L160.623 235.008z" style="fill: #ff0000; stroke: #ff0000; stroke-linejoin: miter"/>
     <path d="M176.828 239.251L181.071 235.008L176.828 230.765L172.586 235.008z" style="fill: #ff0000; stroke: #ff0000; stroke-linejoin: miter"/>
     <path d="M188.791 239.251L193.033 235.008L188.791 230.765L184.548 235.008z" style="fill: #ff0000; stroke: #ff0000; stroke-linejoin: miter"/>
     <path d="M200.753 239.251L204.996 235.008L200.753 230.765L196.511 235.008z" style="fill: #ff0000; stroke: #ff0000; stroke-linejoin: miter"/>
     <path d="M212.716 239.251L216.958 235.008L212.716 230.765L208.473 235.008z" style="fill: #ff0000; stroke: #ff0000; stroke-linejoin: miter"/>
     <path d="M224.678 239.251L228.921 235.008L224.678 230.765L220.436 235.008z" style="fill: #ff0000; stroke: #ff0000; stroke-linejoin: miter"/>
     <path d="M236.641 239.251L240.883 235.008L236.641 230.765L232.398 235.008z" style="fill: #ff0000; stroke: #ff0000; stroke-linejoin: miter"/>
     <path d="M248.603 227.561L252.846 223.319L248.603 219.076L244.36 223.319z" style="fill: #ff0000; stroke: #ff0000; stroke-linejoin: miter"/>
     <path d="M260.565 239.251L264.808 235.008L260.565 230.765L256.323 235.008z" style="fill: #ff0000; stroke: #ff0000; stroke-linejoin: miter"/>
     <path d="M272.528 239.251L276.771 235.008L272.528 230.765L268.285 235.008z" style="fill: #ff0000; stroke: #ff0000; stroke-linejoin: miter"/>
     <path d="M284.49 215.872L288.733 211.63L284.49 207.387L280.248 211.63z" style="fill: #ff0000; stroke: #ff0000; stroke-linejoin: miter"/>
     <path d="M296.453 215.872L300.695 211.63L296.453 207.387L292.21 211.63z" style="fill: #ff0000; stroke: #ff0000; stroke-linejoin: miter"/>
     <path d="M308.415 215.872L312.658 211.63L308.415 207.387L304.173 211.63z" style="fill: #ff0000; stroke: #ff0000; stroke-linejoin: miter"/>
     <path d="M320.378 204.183L324.62 199.94L320.378 195.698L316.135 199.94z" style="fill: #ff0000; stroke: #ff0000; stroke-linejoin: miter"/>
     <path d="M332.34 239.251L336.583 235.008L332.34 230.765L328.097 235.008z" style="fill: #ff0000; stroke: #ff0000; stroke-linejoin: miter"/>
     <path d="M344.303 192.494L348.545 188.251L344.303 184.009L340.06 188.251z" style="fill: #ff0000; stroke: #ff0000; stroke-linejoin: miter"/>
     <path d="M356.265 204.183L360.508 199.94L356.265 195.698L352.022 199.94z" style="fill: #ff0000; stroke: #ff0000; stroke-linejoin: miter"/>
     <path d="M368.227 134.048L372.47 129.805L368.227 125.563L363.985 129.805z" style="fill: #ff0000; stroke: #ff0000; stroke-linejoin: miter"/>
     <path d="M380.19 122.359L384.433 118.116L380.19 113.873L375.947 118.116z" style="fill: #ff0000; stroke: #ff0000; stroke-linejoin: miter"/>
     <path d="M392.152 169.115L396.395 164.873L392.152 160.63L387.91 164.873z" style="fill: #ff0000; stroke: #ff0000; stroke-linejoin: miter"/>
     <path d="M404.115 75.602L408.357 71.359L404.115 67.117L399.872 71.359z" style="fill: #ff0000; stroke: #ff0000; stroke-linejoin: miter"/>
     <path d="M416.077 204.183L420.32 199.94L416.077 195.698L411.835 199.94z" style="fill: #ff0000; stroke: #ff0000; stroke-linejoin: miter"/>
     <path d="M428.04 227.561L432.282 223.319L428.04 219.076L423.797 223.319z" style="fill: #ff0000; stroke: #ff0000; stroke-linejoin: miter"/>
     <path d="M440.002 239.251L444.245 235.008L440.002 230.765L435.759 235.008z" style="fill: #ff0000; stroke: #ff0000; stroke-linejoin: miter"/>
     <path d="M451.965 227.561L456.207 223.319L451.965 219.076L447.722 223.319z" style="fill: #ff0000; stroke: #ff0000; stroke-linejoin: miter"/>
     <path d="M463.927 227.561L468.17 223.319L463.927 219.076L459.684 223.319z" style="fill: #ff0000; stroke: #ff0000; stroke-linejoin: miter"/>
     <path d="M475.889 180.805L480.132 176.562L475.889 172.319L471.647 176.562z" style="fill: #ff0000; stroke: #ff0000; stroke-linejoin: miter"/>
     <path d="M487.852 239.251L492.094 235.008L487.852 230.765L483.609 235.008z" style="fill: #ff0000; stroke: #ff0000; stroke-linejoin: miter"/>
     <path d="M499.814 239.251L504.057 235.008L499.814 230.765L495.572 235.008z" style="fill: #ff0000; stroke: #ff0000; stroke-linejoin: miter"/>
     <path d="M511.777 239.251L516.019 235.008L511.777 230.765L507.534 235.008z" style="fill: #ff0000; stroke: #ff0000; stroke-linejoin: miter"/>
     <path d="M523.739 239.251L527.982 235.008L523.739 230.765L519.497 235.008z" style="fill: #ff0000; stroke: #ff0000; stroke-linejoin: miter"/>
     <path d="M535.702 239.251L539.944 235.008L535.702 230.765L531.459 235.008z" style="fill: #ff0000; stroke: #ff0000; stroke-linejoin: miter"/>
     <path d="M547.664 239.251L551.907 235.008L547.664 230.765L543.421 235.008z" style="fill: #ff0000; stroke: #ff0000; stroke-linejoin: miter"/>
     <path d="M559.626 239.251L563.869 235.008L559.626 230.765L555.384 235.008z" style="fill: #ff0000; stroke: #ff0000; stroke-linejoin: miter"/>
     <path d="M571.589 239.251L575.832 235.008L571.589 230.765L567.346 235.008z" style="fill: #ff0000; stroke: #ff0000; stroke-linejoin: miter"/>
     <path d="M583.551 239.251L587.794 235.008L583.551 230.765L579.309 235.008z" style="fill: #ff0000; stroke: #ff0000; stroke-linejoin: miter"/>
     <path d="M595.514 239.251L599.756 235.008L595.514 230.765L591.271 235.008z" style="fill: #ff0000; stroke: #ff0000; stroke-linejoin: miter"/>
     <path d="M607.476 239.251L611.719 235.008L607.476 230.765L603.234 235.008z" style="fill: #ff0000; stroke: #ff0000; stroke-linejoin: miter"/>
     <path d="M619.439 239.251L623.681 235.008L619.439 230.765L615.196 235.008z" style="fill: #ff0000; stroke: #ff0000; stroke-linejoin: miter"/>
     <path d="M631.401 239.251L635.644 235.008L631.401 230.765L627.158 235.008z" style="fill: #ff0000; stroke: #ff0000; stroke-linejoin: miter"/>
     <path d="M643.364 239.251L647.606 235.008L643.364 230.765L639.121 235.008z" style="fill: #ff0000; stroke: #ff0000; stroke-linejoin: miter"/>
     <path d="M655.326 239.251L659.569 235.008L655.326 230.765L651.083 235.008z" style="fill: #ff0000; stroke: #ff0000; stroke-linejoin: miter"/>
     <path d="M667.288 239.251L671.531 235.008L667.288 230.765L663.046 235.008z" style="fill: #ff0000; stroke: #ff0000; stroke-linejoin: miter"/>
    </g>
   </g>
   <g id="line2d_67">
    <path d="M 57.204 235.008 
L 69.16644 235.008 
L 81.12888 235.008 
L 93.09132 235.008 
L 105.05376 235.008 
L 117.0162 235.008 
L 128.97864 199.9404 
L 140.94108 199.9404 
L 152.90352 199.9404 
L 164.86596 153.1836 
L 176.8284 176.562 
L 188.79084 83.0484 
L 200.75328 71.3592 
L 212.71572 164.8728 
L 224.67816 153.1836 
L 236.6406 106.4268 
L 248.60304 188.2512 
L 260.56548 199.9404 
L 272.52792 164.8728 
L 284.49036 211.6296 
L 296.4528 153.1836 
L 308.41524 118.116 
L 320.37768 223.3188 
L 332.34012 164.8728 
L 344.30256 129.8052 
L 356.265 129.8052 
L 368.22744 164.8728 
L 380.18988 176.562 
L 392.15232 129.8052 
L 404.11476 199.9404 
L 416.0772 164.8728 
L 428.03964 188.2512 
L 440.00208 153.1836 
L 451.96452 118.116 
L 463.92696 118.116 
L 475.8894 164.8728 
L 487.85184 211.6296 
L 499.81428 223.3188 
L 511.77672 199.9404 
L 523.73916 235.008 
L 535.7016 223.3188 
L 547.66404 235.008 
L 559.62648 235.008 
L 571.58892 235.008 
L 583.55136 235.008 
L 595.5138 235.008 
L 607.47624 235.008 
L 619.43868 235.008 
L 631.40112 235.008 
L 643.36356 235.008 
L 655.326 235.008 
L 667.28844 235.008 
" clip-path="url(#p76684aa1a0)" style="fill: none; stroke: #008000; stroke-width: 2; stroke-linecap: square"/>
    <g clip-path="url(#p76684aa1a0)">
     <path d="M57.204 239.251L61.447 235.008L57.204 230.765L52.961 235.008z" style="fill: #008000; stroke: #008000; stroke-linejoin: miter"/>
     <path d="M69.166 239.251L73.409 235.008L69.166 230.765L64.924 235.008z" style="fill: #008000; stroke: #008000; stroke-linejoin: miter"/>
     <path d="M81.129 239.251L85.372 235.008L81.129 230.765L76.886 235.008z" style="fill: #008000; stroke: #008000; stroke-linejoin: miter"/>
     <path d="M93.091 239.251L97.334 235.008L93.091 230.765L88.849 235.008z" style="fill: #008000; stroke: #008000; stroke-linejoin: miter"/>
     <path d="M105.054 239.251L109.296 235.008L105.054 230.765L100.811 235.008z" style="fill: #008000; stroke: #008000; stroke-linejoin: miter"/>
     <path d="M117.016 239.251L121.259 235.008L117.016 230.765L112.774 235.008z" style="fill: #008000; stroke: #008000; stroke-linejoin: miter"/>
     <path d="M128.979 204.183L133.221 199.94L128.979 195.698L124.736 199.94z" style="fill: #008000; stroke: #008000; stroke-linejoin: miter"/>
     <path d="M140.941 204.183L145.184 199.94L140.941 195.698L136.698 199.94z" style="fill: #008000; stroke: #008000; stroke-linejoin: miter"/>
     <path d="M152.904 204.183L157.146 199.94L152.904 195.698L148.661 199.94z" style="fill: #008000; stroke: #008000; stroke-linejoin: miter"/>
     <path d="M164.866 157.426L169.109 153.184L164.866 148.941L160.623 153.184z" style="fill: #008000; stroke: #008000; stroke-linejoin: miter"/>
     <path d="M176.828 180.805L181.071 176.562L176.828 172.319L172.586 176.562z" style="fill: #008000; stroke: #008000; stroke-linejoin: miter"/>
     <path d="M188.791 87.291L193.033 83.048L188.791 78.806L184.548 83.048z" style="fill: #008000; stroke: #008000; stroke-linejoin: miter"/>
     <path d="M200.753 75.602L204.996 71.359L200.753 67.117L196.511 71.359z" style="fill: #008000; stroke: #008000; stroke-linejoin: miter"/>
     <path d="M212.716 169.115L216.958 164.873L212.716 160.63L208.473 164.873z" style="fill: #008000; stroke: #008000; stroke-linejoin: miter"/>
     <path d="M224.678 157.426L228.921 153.184L224.678 148.941L220.436 153.184z" style="fill: #008000; stroke: #008000; stroke-linejoin: miter"/>
     <path d="M236.641 110.669L240.883 106.427L236.641 102.184L232.398 106.427z" style="fill: #008000; stroke: #008000; stroke-linejoin: miter"/>
     <path d="M248.603 192.494L252.846 188.251L248.603 184.009L244.36 188.251z" style="fill: #008000; stroke: #008000; stroke-linejoin: miter"/>
     <path d="M260.565 204.183L264.808 199.94L260.565 195.698L256.323 199.94z" style="fill: #008000; stroke: #008000; stroke-linejoin: miter"/>
     <path d="M272.528 169.115L276.771 164.873L272.528 160.63L268.285 164.873z" style="fill: #008000; stroke: #008000; stroke-linejoin: miter"/>
     <path d="M284.49 215.872L288.733 211.63L284.49 207.387L280.248 211.63z" style="fill: #008000; stroke: #008000; stroke-linejoin: miter"/>
     <path d="M296.453 157.426L300.695 153.184L296.453 148.941L292.21 153.184z" style="fill: #008000; stroke: #008000; stroke-linejoin: miter"/>
     <path d="M308.415 122.359L312.658 118.116L308.415 113.873L304.173 118.116z" style="fill: #008000; stroke: #008000; stroke-linejoin: miter"/>
     <path d="M320.378 227.561L324.62 223.319L320.378 219.076L316.135 223.319z" style="fill: #008000; stroke: #008000; stroke-linejoin: miter"/>
     <path d="M332.34 169.115L336.583 164.873L332.34 160.63L328.097 164.873z" style="fill: #008000; stroke: #008000; stroke-linejoin: miter"/>
     <path d="M344.303 134.048L348.545 129.805L344.303 125.563L340.06 129.805z" style="fill: #008000; stroke: #008000; stroke-linejoin: miter"/>
     <path d="M356.265 134.048L360.508 129.805L356.265 125.563L352.022 129.805z" style="fill: #008000; stroke: #008000; stroke-linejoin: miter"/>
     <path d="M368.227 169.115L372.47 164.873L368.227 160.63L363.985 164.873z" style="fill: #008000; stroke: #008000; stroke-linejoin: miter"/>
     <path d="M380.19 180.805L384.433 176.562L380.19 172.319L375.947 176.562z" style="fill: #008000; stroke: #008000; stroke-linejoin: miter"/>
     <path d="M392.152 134.048L396.395 129.805L392.152 125.563L387.91 129.805z" style="fill: #008000; stroke: #008000; stroke-linejoin: miter"/>
     <path d="M404.115 204.183L408.357 199.94L404.115 195.698L399.872 199.94z" style="fill: #008000; stroke: #008000; stroke-linejoin: miter"/>
     <path d="M416.077 169.115L420.32 164.873L416.077 160.63L411.835 164.873z" style="fill: #008000; stroke: #008000; stroke-linejoin: miter"/>
     <path d="M428.04 192.494L432.282 188.251L428.04 184.009L423.797 188.251z" style="fill: #008000; stroke: #008000; stroke-linejoin: miter"/>
     <path d="M440.002 157.426L444.245 153.184L440.002 148.941L435.759 153.184z" style="fill: #008000; stroke: #008000; stroke-linejoin: miter"/>
     <path d="M451.965 122.359L456.207 118.116L451.965 113.873L447.722 118.116z" style="fill: #008000; stroke: #008000; stroke-linejoin: miter"/>
     <path d="M463.927 122.359L468.17 118.116L463.927 113.873L459.684 118.116z" style="fill: #008000; stroke: #008000; stroke-linejoin: miter"/>
     <path d="M475.889 169.115L480.132 164.873L475.889 160.63L471.647 164.873z" style="fill: #008000; stroke: #008000; stroke-linejoin: miter"/>
     <path d="M487.852 215.872L492.094 211.63L487.852 207.387L483.609 211.63z" style="fill: #008000; stroke: #008000; stroke-linejoin: miter"/>
     <path d="M499.814 227.561L504.057 223.319L499.814 219.076L495.572 223.319z" style="fill: #008000; stroke: #008000; stroke-linejoin: miter"/>
     <path d="M511.777 204.183L516.019 199.94L511.777 195.698L507.534 199.94z" style="fill: #008000; stroke: #008000; stroke-linejoin: miter"/>
     <path d="M523.739 239.251L527.982 235.008L523.739 230.765L519.497 235.008z" style="fill: #008000; stroke: #008000; stroke-linejoin: miter"/>
     <path d="M535.702 227.561L539.944 223.319L535.702 219.076L531.459 223.319z" style="fill: #008000; stroke: #008000; stroke-linejoin: miter"/>
     <path d="M547.664 239.251L551.907 235.008L547.664 230.765L543.421 235.008z" style="fill: #008000; stroke: #008000; stroke-linejoin: miter"/>
     <path d="M559.626 239.251L563.869 235.008L559.626 230.765L555.384 235.008z" style="fill: #008000; stroke: #008000; stroke-linejoin: miter"/>
     <path d="M571.589 239.251L575.832 235.008L571.589 230.765L567.346 235.008z" style="fill: #008000; stroke: #008000; stroke-linejoin: miter"/>
     <path d="M583.551 239.251L587.794 235.008L583.551 230.765L579.309 235.008z" style="fill: #008000; stroke: #008000; stroke-linejoin: miter"/>
     <path d="M595.514 239.251L599.756 235.008L595.514 230.765L591.271 235.008z" style="fill: #008000; stroke: #008000; stroke-linejoin: miter"/>
     <path d="M607.476 239.251L611.719 235.008L607.476 230.765L603.234 235.008z" style="fill: #008000; stroke: #008000; stroke-linejoin: miter"/>
     <path d="M619.439 239.251L623.681 235.008L619.439 230.765L615.196 235.008z" style="fill: #008000; stroke: #008000; stroke-linejoin: miter"/>
     <path d="M631.401 239.251L635.644 235.008L631.401 230.765L627.158 235.008z" style="fill: #008000; stroke: #008000; stroke-linejoin: miter"/>
     <path d="M643.364 239.251L647.606 235.008L643.364 230.765L639.121 235.008z" style="fill: #008000; stroke: #008000; stroke-linejoin: miter"/>
     <path d="M655.326 239.251L659.569 235.008L655.326 230.765L651.083 235.008z" style="fill: #008000; stroke: #008000; stroke-linejoin: miter"/>
     <path d="M667.288 239.251L671.531 235.008L667.288 230.765L663.046 235.008z" style="fill: #008000; stroke: #008000; stroke-linejoin: miter"/>
    </g>
   </g>
   <g id="line2d_68">
    <path d="M 57.204 235.008 
L 69.16644 235.008 
L 81.12888 235.008 
L 93.09132 235.008 
L 105.05376 235.008 
L 117.0162 235.008 
L 128.97864 235.008 
L 140.94108 235.008 
L 152.90352 235.008 
L 164.86596 235.008 
L 176.8284 235.008 
L 188.79084 235.008 
L 200.75328 235.008 
L 212.71572 235.008 
L 224.67816 235.008 
L 236.6406 235.008 
L 248.60304 235.008 
L 260.56548 223.3188 
L 272.52792 235.008 
L 284.49036 235.008 
L 296.4528 235.008 
L 308.41524 223.3188 
L 320.37768 235.008 
L 332.34012 235.008 
L 344.30256 235.008 
L 356.265 223.3188 
L 368.22744 199.9404 
L 380.18988 235.008 
L 392.15232 199.9404 
L 404.11476 118.116 
L 416.0772 71.3592 
L 428.03964 211.6296 
L 440.00208 235.008 
L 451.96452 235.008 
L 463.92696 235.008 
L 475.8894 235.008 
L 487.85184 235.008 
L 499.81428 235.008 
L 511.77672 235.008 
L 523.73916 235.008 
L 535.7016 235.008 
L 547.66404 235.008 
L 559.62648 235.008 
L 571.58892 235.008 
L 583.55136 235.008 
L 595.5138 235.008 
L 607.47624 235.008 
L 619.43868 235.008 
L 631.40112 235.008 
L 643.36356 235.008 
L 655.326 235.008 
L 667.28844 235.008 
" clip-path="url(#p76684aa1a0)" style="fill: none; stroke: #0000ff; stroke-width: 2; stroke-linecap: square"/>
    <g clip-path="url(#p76684aa1a0)">
     <path d="M57.204 239.251L61.447 235.008L57.204 230.765L52.961 235.008z" style="fill: #0000ff; stroke: #0000ff; stroke-linejoin: miter"/>
     <path d="M69.166 239.251L73.409 235.008L69.166 230.765L64.924 235.008z" style="fill: #0000ff; stroke: #0000ff; stroke-linejoin: miter"/>
     <path d="M81.129 239.251L85.372 235.008L81.129 230.765L76.886 235.008z" style="fill: #0000ff; stroke: #0000ff; stroke-linejoin: miter"/>
     <path d="M93.091 239.251L97.334 235.008L93.091 230.765L88.849 235.008z" style="fill: #0000ff; stroke: #0000ff; stroke-linejoin: miter"/>
     <path d="M105.054 239.251L109.296 235.008L105.054 230.765L100.811 235.008z" style="fill: #0000ff; stroke: #0000ff; stroke-linejoin: miter"/>
     <path d="M117.016 239.251L121.259 235.008L117.016 230.765L112.774 235.008z" style="fill: #0000ff; stroke: #0000ff; stroke-linejoin: miter"/>
     <path d="M128.979 239.251L133.221 235.008L128.979 230.765L124.736 235.008z" style="fill: #0000ff; stroke: #0000ff; stroke-linejoin: miter"/>
     <path d="M140.941 239.251L145.184 235.008L140.941 230.765L136.698 235.008z" style="fill: #0000ff; stroke: #0000ff; stroke-linejoin: miter"/>
     <path d="M152.904 239.251L157.146 235.008L152.904 230.765L148.661 235.008z" style="fill: #0000ff; stroke: #0000ff; stroke-linejoin: miter"/>
     <path d="M164.866 239.251L169.109 235.008L164.866 230.765L160.623 235.008z" style="fill: #0000ff; stroke: #0000ff; stroke-linejoin: miter"/>
     <path d="M176.828 239.251L181.071 235.008L176.828 230.765L172.586 235.008z" style="fill: #0000ff; stroke: #0000ff; stroke-linejoin: miter"/>
     <path d="M188.791 239.251L193.033 235.008L188.791 230.765L184.548 235.008z" style="fill: #0000ff; stroke: #0000ff; stroke-linejoin: miter"/>
     <path d="M200.753 239.251L204.996 235.008L200.753 230.765L196.511 235.008z" style="fill: #0000ff; stroke: #0000ff; stroke-linejoin: miter"/>
     <path d="M212.716 239.251L216.958 235.008L212.716 230.765L208.473 235.008z" style="fill: #0000ff; stroke: #0000ff; stroke-linejoin: miter"/>
     <path d="M224.678 239.251L228.921 235.008L224.678 230.765L220.436 235.008z" style="fill: #0000ff; stroke: #0000ff; stroke-linejoin: miter"/>
     <path d="M236.641 239.251L240.883 235.008L236.641 230.765L232.398 235.008z" style="fill: #0000ff; stroke: #0000ff; stroke-linejoin: miter"/>
     <path d="M248.603 239.251L252.846 235.008L248.603 230.765L244.36 235.008z" style="fill: #0000ff; stroke: #0000ff; stroke-linejoin: miter"/>
     <path d="M260.565 227.561L264.808 223.319L260.565 219.076L256.323 223.319z" style="fill: #0000ff; stroke: #0000ff; stroke-linejoin: miter"/>
     <path d="M272.528 239.251L276.771 235.008L272.528 230.765L268.285 235.008z" style="fill: #0000ff; stroke: #0000ff; stroke-linejoin: miter"/>
     <path d="M284.49 239.251L288.733 235.008L284.49 230.765L280.248 235.008z" style="fill: #0000ff; stroke: #0000ff; stroke-linejoin: miter"/>
     <path d="M296.453 239.251L300.695 235.008L296.453 230.765L292.21 235.008z" style="fill: #0000ff; stroke: #0000ff; stroke-linejoin: miter"/>
     <path d="M308.415 227.561L312.658 223.319L308.415 219.076L304.173 223.319z" style="fill: #0000ff; stroke: #0000ff; stroke-linejoin: miter"/>
     <path d="M320.378 239.251L324.62 235.008L320.378 230.765L316.135 235.008z" style="fill: #0000ff; stroke: #0000ff; stroke-linejoin: miter"/>
     <path d="M332.34 239.251L336.583 235.008L332.34 230.765L328.097 235.008z" style="fill: #0000ff; stroke: #0000ff; stroke-linejoin: miter"/>
     <path d="M344.303 239.251L348.545 235.008L344.303 230.765L340.06 235.008z" style="fill: #0000ff; stroke: #0000ff; stroke-linejoin: miter"/>
     <path d="M356.265 227.561L360.508 223.319L356.265 219.076L352.022 223.319z" style="fill: #0000ff; stroke: #0000ff; stroke-linejoin: miter"/>
     <path d="M368.227 204.183L372.47 199.94L368.227 195.698L363.985 199.94z" style="fill: #0000ff; stroke: #0000ff; stroke-linejoin: miter"/>
     <path d="M380.19 239.251L384.433 235.008L380.19 230.765L375.947 235.008z" style="fill: #0000ff; stroke: #0000ff; stroke-linejoin: miter"/>
     <path d="M392.152 204.183L396.395 199.94L392.152 195.698L387.91 199.94z" style="fill: #0000ff; stroke: #0000ff; stroke-linejoin: miter"/>
     <path d="M404.115 122.359L408.357 118.116L404.115 113.873L399.872 118.116z" style="fill: #0000ff; stroke: #0000ff; stroke-linejoin: miter"/>
     <path d="M416.077 75.602L420.32 71.359L416.077 67.117L411.835 71.359z" style="fill: #0000ff; stroke: #0000ff; stroke-linejoin: miter"/>
     <path d="M428.04 215.872L432.282 211.63L428.04 207.387L423.797 211.63z" style="fill: #0000ff; stroke: #0000ff; stroke-linejoin: miter"/>
     <path d="M440.002 239.251L444.245 235.008L440.002 230.765L435.759 235.008z" style="fill: #0000ff; stroke: #0000ff; stroke-linejoin: miter"/>
     <path d="M451.965 239.251L456.207 235.008L451.965 230.765L447.722 235.008z" style="fill: #0000ff; stroke: #0000ff; stroke-linejoin: miter"/>
     <path d="M463.927 239.251L468.17 235.008L463.927 230.765L459.684 235.008z" style="fill: #0000ff; stroke: #0000ff; stroke-linejoin: miter"/>
     <path d="M475.889 239.251L480.132 235.008L475.889 230.765L471.647 235.008z" style="fill: #0000ff; stroke: #0000ff; stroke-linejoin: miter"/>
     <path d="M487.852 239.251L492.094 235.008L487.852 230.765L483.609 235.008z" style="fill: #0000ff; stroke: #0000ff; stroke-linejoin: miter"/>
     <path d="M499.814 239.251L504.057 235.008L499.814 230.765L495.572 235.008z" style="fill: #0000ff; stroke: #0000ff; stroke-linejoin: miter"/>
     <path d="M511.777 239.251L516.019 235.008L511.777 230.765L507.534 235.008z" style="fill: #0000ff; stroke: #0000ff; stroke-linejoin: miter"/>
     <path d="M523.739 239.251L527.982 235.008L523.739 230.765L519.497 235.008z" style="fill: #0000ff; stroke: #0000ff; stroke-linejoin: miter"/>
     <path d="M535.702 239.251L539.944 235.008L535.702 230.765L531.459 235.008z" style="fill: #0000ff; stroke: #0000ff; stroke-linejoin: miter"/>
     <path d="M547.664 239.251L551.907 235.008L547.664 230.765L543.421 235.008z" style="fill: #0000ff; stroke: #0000ff; stroke-linejoin: miter"/>
     <path d="M559.626 239.251L563.869 235.008L559.626 230.765L555.384 235.008z" style="fill: #0000ff; stroke: #0000ff; stroke-linejoin: miter"/>
     <path d="M571.589 239.251L575.832 235.008L571.589 230.765L567.346 235.008z" style="fill: #0000ff; stroke: #0000ff; stroke-linejoin: miter"/>
     <path d="M583.551 239.251L587.794 235.008L583.551 230.765L579.309 235.008z" style="fill: #0000ff; stroke: #0000ff; stroke-linejoin: miter"/>
     <path d="M595.514 239.251L599.756 235.008L595.514 230.765L591.271 235.008z" style="fill: #0000ff; stroke: #0000ff; stroke-linejoin: miter"/>
     <path d="M607.476 239.251L611.719 235.008L607.476 230.765L603.234 235.008z" style="fill: #0000ff; stroke: #0000ff; stroke-linejoin: miter"/>
     <path d="M619.439 239.251L623.681 235.008L619.439 230.765L615.196 235.008z" style="fill: #0000ff; stroke: #0000ff; stroke-linejoin: miter"/>
     <path d="M631.401 239.251L635.644 235.008L631.401 230.765L627.158 235.008z" style="fill: #0000ff; stroke: #0000ff; stroke-linejoin: miter"/>
     <path d="M643.364 239.251L647.606 235.008L643.364 230.765L639.121 235.008z" style="fill: #0000ff; stroke: #0000ff; stroke-linejoin: miter"/>
     <path d="M655.326 239.251L659.569 235.008L655.326 230.765L651.083 235.008z" style="fill: #0000ff; stroke: #0000ff; stroke-linejoin: miter"/>
     <path d="M667.288 239.251L671.531 235.008L667.288 230.765L663.046 235.008z" style="fill: #0000ff; stroke: #0000ff; stroke-linejoin: miter"/>
    </g>
   </g>
   <g id="line2d_69">
    <path d="M 57.204 235.008 
L 69.16644 235.008 
L 81.12888 235.008 
L 93.09132 235.008 
L 105.05376 235.008 
L 117.0162 235.008 
L 128.97864 235.008 
L 140.94108 235.008 
L 152.90352 235.008 
L 164.86596 235.008 
L 176.8284 235.008 
L 188.79084 235.008 
L 200.75328 211.6296 
L 212.71572 199.9404 
L 224.67816 211.6296 
L 236.6406 188.2512 
L 248.60304 153.1836 
L 260.56548 153.1836 
L 272.52792 129.8052 
L 284.49036 164.8728 
L 296.4528 141.4944 
L 308.41524 83.0484 
L 320.37768 106.4268 
L 332.34012 106.4268 
L 344.30256 71.3592 
L 356.265 83.0484 
L 368.22744 94.7376 
L 380.18988 106.4268 
L 392.15232 83.0484 
L 404.11476 83.0484 
L 416.0772 118.116 
L 428.03964 71.3592 
L 440.00208 106.4268 
L 451.96452 176.562 
L 463.92696 164.8728 
L 475.8894 153.1836 
L 487.85184 211.6296 
L 499.81428 235.008 
L 511.77672 235.008 
L 523.73916 235.008 
L 535.7016 235.008 
L 547.66404 235.008 
L 559.62648 235.008 
L 571.58892 235.008 
L 583.55136 235.008 
L 595.5138 235.008 
L 607.47624 235.008 
L 619.43868 235.008 
L 631.40112 235.008 
L 643.36356 235.008 
L 655.326 235.008 
L 667.28844 235.008 
" clip-path="url(#p76684aa1a0)" style="fill: none; stroke: #00bfbf; stroke-width: 2; stroke-linecap: square"/>
    <g clip-path="url(#p76684aa1a0)">
     <path d="M57.204 239.251L61.447 235.008L57.204 230.765L52.961 235.008z" style="fill: #00bfbf; stroke: #00bfbf; stroke-linejoin: miter"/>
     <path d="M69.166 239.251L73.409 235.008L69.166 230.765L64.924 235.008z" style="fill: #00bfbf; stroke: #00bfbf; stroke-linejoin: miter"/>
     <path d="M81.129 239.251L85.372 235.008L81.129 230.765L76.886 235.008z" style="fill: #00bfbf; stroke: #00bfbf; stroke-linejoin: miter"/>
     <path d="M93.091 239.251L97.334 235.008L93.091 230.765L88.849 235.008z" style="fill: #00bfbf; stroke: #00bfbf; stroke-linejoin: miter"/>
     <path d="M105.054 239.251L109.296 235.008L105.054 230.765L100.811 235.008z" style="fill: #00bfbf; stroke: #00bfbf; stroke-linejoin: miter"/>
     <path d="M117.016 239.251L121.259 235.008L117.016 230.765L112.774 235.008z" style="fill: #00bfbf; stroke: #00bfbf; stroke-linejoin: miter"/>
     <path d="M128.979 239.251L133.221 235.008L128.979 230.765L124.736 235.008z" style="fill: #00bfbf; stroke: #00bfbf; stroke-linejoin: miter"/>
     <path d="M140.941 239.251L145.184 235.008L140.941 230.765L136.698 235.008z" style="fill: #00bfbf; stroke: #00bfbf; stroke-linejoin: miter"/>
     <path d="M152.904 239.251L157.146 235.008L152.904 230.765L148.661 235.008z" style="fill: #00bfbf; stroke: #00bfbf; stroke-linejoin: miter"/>
     <path d="M164.866 239.251L169.109 235.008L164.866 230.765L160.623 235.008z" style="fill: #00bfbf; stroke: #00bfbf; stroke-linejoin: miter"/>
     <path d="M176.828 239.251L181.071 235.008L176.828 230.765L172.586 235.008z" style="fill: #00bfbf; stroke: #00bfbf; stroke-linejoin: miter"/>
     <path d="M188.791 239.251L193.033 235.008L188.791 230.765L184.548 235.008z" style="fill: #00bfbf; stroke: #00bfbf; stroke-linejoin: miter"/>
     <path d="M200.753 215.872L204.996 211.63L200.753 207.387L196.511 211.63z" style="fill: #00bfbf; stroke: #00bfbf; stroke-linejoin: miter"/>
     <path d="M212.716 204.183L216.958 199.94L212.716 195.698L208.473 199.94z" style="fill: #00bfbf; stroke: #00bfbf; stroke-linejoin: miter"/>
     <path d="M224.678 215.872L228.921 211.63L224.678 207.387L220.436 211.63z" style="fill: #00bfbf; stroke: #00bfbf; stroke-linejoin: miter"/>
     <path d="M236.641 192.494L240.883 188.251L236.641 184.009L232.398 188.251z" style="fill: #00bfbf; stroke: #00bfbf; stroke-linejoin: miter"/>
     <path d="M248.603 157.426L252.846 153.184L248.603 148.941L244.36 153.184z" style="fill: #00bfbf; stroke: #00bfbf; stroke-linejoin: miter"/>
     <path d="M260.565 157.426L264.808 153.184L260.565 148.941L256.323 153.184z" style="fill: #00bfbf; stroke: #00bfbf; stroke-linejoin: miter"/>
     <path d="M272.528 134.048L276.771 129.805L272.528 125.563L268.285 129.805z" style="fill: #00bfbf; stroke: #00bfbf; stroke-linejoin: miter"/>
     <path d="M284.49 169.115L288.733 164.873L284.49 160.63L280.248 164.873z" style="fill: #00bfbf; stroke: #00bfbf; stroke-linejoin: miter"/>
     <path d="M296.453 145.737L300.695 141.494L296.453 137.252L292.21 141.494z" style="fill: #00bfbf; stroke: #00bfbf; stroke-linejoin: miter"/>
     <path d="M308.415 87.291L312.658 83.048L308.415 78.806L304.173 83.048z" style="fill: #00bfbf; stroke: #00bfbf; stroke-linejoin: miter"/>
     <path d="M320.378 110.669L324.62 106.427L320.378 102.184L316.135 106.427z" style="fill: #00bfbf; stroke: #00bfbf; stroke-linejoin: miter"/>
     <path d="M332.34 110.669L336.583 106.427L332.34 102.184L328.097 106.427z" style="fill: #00bfbf; stroke: #00bfbf; stroke-linejoin: miter"/>
     <path d="M344.303 75.602L348.545 71.359L344.303 67.117L340.06 71.359z" style="fill: #00bfbf; stroke: #00bfbf; stroke-linejoin: miter"/>
     <path d="M356.265 87.291L360.508 83.048L356.265 78.806L352.022 83.048z" style="fill: #00bfbf; stroke: #00bfbf; stroke-linejoin: miter"/>
     <path d="M368.227 98.98L372.47 94.738L368.227 90.495L363.985 94.738z" style="fill: #00bfbf; stroke: #00bfbf; stroke-linejoin: miter"/>
     <path d="M380.19 110.669L384.433 106.427L380.19 102.184L375.947 106.427z" style="fill: #00bfbf; stroke: #00bfbf; stroke-linejoin: miter"/>
     <path d="M392.152 87.291L396.395 83.048L392.152 78.806L387.91 83.048z" style="fill: #00bfbf; stroke: #00bfbf; stroke-linejoin: miter"/>
     <path d="M404.115 87.291L408.357 83.048L404.115 78.806L399.872 83.048z" style="fill: #00bfbf; stroke: #00bfbf; stroke-linejoin: miter"/>
     <path d="M416.077 122.359L420.32 118.116L416.077 113.873L411.835 118.116z" style="fill: #00bfbf; stroke: #00bfbf; stroke-linejoin: miter"/>
     <path d="M428.04 75.602L432.282 71.359L428.04 67.117L423.797 71.359z" style="fill: #00bfbf; stroke: #00bfbf; stroke-linejoin: miter"/>
     <path d="M440.002 110.669L444.245 106.427L440.002 102.184L435.759 106.427z" style="fill: #00bfbf; stroke: #00bfbf; stroke-linejoin: miter"/>
     <path d="M451.965 180.805L456.207 176.562L451.965 172.319L447.722 176.562z" style="fill: #00bfbf; stroke: #00bfbf; stroke-linejoin: miter"/>
     <path d="M463.927 169.115L468.17 164.873L463.927 160.63L459.684 164.873z" style="fill: #00bfbf; stroke: #00bfbf; stroke-linejoin: miter"/>
     <path d="M475.889 157.426L480.132 153.184L475.889 148.941L471.647 153.184z" style="fill: #00bfbf; stroke: #00bfbf; stroke-linejoin: miter"/>
     <path d="M487.852 215.872L492.094 211.63L487.852 207.387L483.609 211.63z" style="fill: #00bfbf; stroke: #00bfbf; stroke-linejoin: miter"/>
     <path d="M499.814 239.251L504.057 235.008L499.814 230.765L495.572 235.008z" style="fill: #00bfbf; stroke: #00bfbf; stroke-linejoin: miter"/>
     <path d="M511.777 239.251L516.019 235.008L511.777 230.765L507.534 235.008z" style="fill: #00bfbf; stroke: #00bfbf; stroke-linejoin: miter"/>
     <path d="M523.739 239.251L527.982 235.008L523.739 230.765L519.497 235.008z" style="fill: #00bfbf; stroke: #00bfbf; stroke-linejoin: miter"/>
     <path d="M535.702 239.251L539.944 235.008L535.702 230.765L531.459 235.008z" style="fill: #00bfbf; stroke: #00bfbf; stroke-linejoin: miter"/>
     <path d="M547.664 239.251L551.907 235.008L547.664 230.765L543.421 235.008z" style="fill: #00bfbf; stroke: #00bfbf; stroke-linejoin: miter"/>
     <path d="M559.626 239.251L563.869 235.008L559.626 230.765L555.384 235.008z" style="fill: #00bfbf; stroke: #00bfbf; stroke-linejoin: miter"/>
     <path d="M571.589 239.251L575.832 235.008L571.589 230.765L567.346 235.008z" style="fill: #00bfbf; stroke: #00bfbf; stroke-linejoin: miter"/>
     <path d="M583.551 239.251L587.794 235.008L583.551 230.765L579.309 235.008z" style="fill: #00bfbf; stroke: #00bfbf; stroke-linejoin: miter"/>
     <path d="M595.514 239.251L599.756 235.008L595.514 230.765L591.271 235.008z" style="fill: #00bfbf; stroke: #00bfbf; stroke-linejoin: miter"/>
     <path d="M607.476 239.251L611.719 235.008L607.476 230.765L603.234 235.008z" style="fill: #00bfbf; stroke: #00bfbf; stroke-linejoin: miter"/>
     <path d="M619.439 239.251L623.681 235.008L619.439 230.765L615.196 235.008z" style="fill: #00bfbf; stroke: #00bfbf; stroke-linejoin: miter"/>
     <path d="M631.401 239.251L635.644 235.008L631.401 230.765L627.158 235.008z" style="fill: #00bfbf; stroke: #00bfbf; stroke-linejoin: miter"/>
     <path d="M643.364 239.251L647.606 235.008L643.364 230.765L639.121 235.008z" style="fill: #00bfbf; stroke: #00bfbf; stroke-linejoin: miter"/>
     <path d="M655.326 239.251L659.569 235.008L655.326 230.765L651.083 235.008z" style="fill: #00bfbf; stroke: #00bfbf; stroke-linejoin: miter"/>
     <path d="M667.288 239.251L671.531 235.008L667.288 230.765L663.046 235.008z" style="fill: #00bfbf; stroke: #00bfbf; stroke-linejoin: miter"/>
    </g>
   </g>
   <g id="line2d_70">
    <path d="M 57.204 235.008 
L 69.16644 235.008 
L 81.12888 235.008 
L 93.09132 235.008 
L 105.05376 235.008 
L 117.0162 235.008 
L 128.97864 235.008 
L 140.94108 235.008 
L 152.90352 235.008 
L 164.86596 223.3188 
L 176.8284 235.008 
L 188.79084 235.008 
L 200.75328 223.3188 
L 212.71572 211.6296 
L 224.67816 211.6296 
L 236.6406 141.4944 
L 248.60304 188.2512 
L 260.56548 223.3188 
L 272.52792 211.6296 
L 284.49036 176.562 
L 296.4528 153.1836 
L 308.41524 176.562 
L 320.37768 211.6296 
L 332.34012 141.4944 
L 344.30256 211.6296 
L 356.265 83.0484 
L 368.22744 106.4268 
L 380.18988 94.7376 
L 392.15232 141.4944 
L 404.11476 164.8728 
L 416.0772 188.2512 
L 428.03964 153.1836 
L 440.00208 176.562 
L 451.96452 176.562 
L 463.92696 211.6296 
L 475.8894 223.3188 
L 487.85184 199.9404 
L 499.81428 211.6296 
L 511.77672 235.008 
L 523.73916 235.008 
L 535.7016 235.008 
L 547.66404 235.008 
L 559.62648 235.008 
L 571.58892 235.008 
L 583.55136 235.008 
L 595.5138 235.008 
L 607.47624 235.008 
L 619.43868 235.008 
L 631.40112 235.008 
L 643.36356 235.008 
L 655.326 235.008 
L 667.28844 235.008 
" clip-path="url(#p76684aa1a0)" style="fill: none; stroke: #bf00bf; stroke-width: 2; stroke-linecap: square"/>
    <g clip-path="url(#p76684aa1a0)">
     <path d="M57.204 239.251L61.447 235.008L57.204 230.765L52.961 235.008z" style="fill: #bf00bf; stroke: #bf00bf; stroke-linejoin: miter"/>
     <path d="M69.166 239.251L73.409 235.008L69.166 230.765L64.924 235.008z" style="fill: #bf00bf; stroke: #bf00bf; stroke-linejoin: miter"/>
     <path d="M81.129 239.251L85.372 235.008L81.129 230.765L76.886 235.008z" style="fill: #bf00bf; stroke: #bf00bf; stroke-linejoin: miter"/>
     <path d="M93.091 239.251L97.334 235.008L93.091 230.765L88.849 235.008z" style="fill: #bf00bf; stroke: #bf00bf; stroke-linejoin: miter"/>
     <path d="M105.054 239.251L109.296 235.008L105.054 230.765L100.811 235.008z" style="fill: #bf00bf; stroke: #bf00bf; stroke-linejoin: miter"/>
     <path d="M117.016 239.251L121.259 235.008L117.016 230.765L112.774 235.008z" style="fill: #bf00bf; stroke: #bf00bf; stroke-linejoin: miter"/>
     <path d="M128.979 239.251L133.221 235.008L128.979 230.765L124.736 235.008z" style="fill: #bf00bf; stroke: #bf00bf; stroke-linejoin: miter"/>
     <path d="M140.941 239.251L145.184 235.008L140.941 230.765L136.698 235.008z" style="fill: #bf00bf; stroke: #bf00bf; stroke-linejoin: miter"/>
     <path d="M152.904 239.251L157.146 235.008L152.904 230.765L148.661 235.008z" style="fill: #bf00bf; stroke: #bf00bf; stroke-linejoin: miter"/>
     <path d="M164.866 227.561L169.109 223.319L164.866 219.076L160.623 223.319z" style="fill: #bf00bf; stroke: #bf00bf; stroke-linejoin: miter"/>
     <path d="M176.828 239.251L181.071 235.008L176.828 230.765L172.586 235.008z" style="fill: #bf00bf; stroke: #bf00bf; stroke-linejoin: miter"/>
     <path d="M188.791 239.251L193.033 235.008L188.791 230.765L184.548 235.008z" style="fill: #bf00bf; stroke: #bf00bf; stroke-linejoin: miter"/>
     <path d="M200.753 227.561L204.996 223.319L200.753 219.076L196.511 223.319z" style="fill: #bf00bf; stroke: #bf00bf; stroke-linejoin: miter"/>
     <path d="M212.716 215.872L216.958 211.63L212.716 207.387L208.473 211.63z" style="fill: #bf00bf; stroke: #bf00bf; stroke-linejoin: miter"/>
     <path d="M224.678 215.872L228.921 211.63L224.678 207.387L220.436 211.63z" style="fill: #bf00bf; stroke: #bf00bf; stroke-linejoin: miter"/>
     <path d="M236.641 145.737L240.883 141.494L236.641 137.252L232.398 141.494z" style="fill: #bf00bf; stroke: #bf00bf; stroke-linejoin: miter"/>
     <path d="M248.603 192.494L252.846 188.251L248.603 184.009L244.36 188.251z" style="fill: #bf00bf; stroke: #bf00bf; stroke-linejoin: miter"/>
     <path d="M260.565 227.561L264.808 223.319L260.565 219.076L256.323 223.319z" style="fill: #bf00bf; stroke: #bf00bf; stroke-linejoin: miter"/>
     <path d="M272.528 215.872L276.771 211.63L272.528 207.387L268.285 211.63z" style="fill: #bf00bf; stroke: #bf00bf; stroke-linejoin: miter"/>
     <path d="M284.49 180.805L288.733 176.562L284.49 172.319L280.248 176.562z" style="fill: #bf00bf; stroke: #bf00bf; stroke-linejoin: miter"/>
     <path d="M296.453 157.426L300.695 153.184L296.453 148.941L292.21 153.184z" style="fill: #bf00bf; stroke: #bf00bf; stroke-linejoin: miter"/>
     <path d="M308.415 180.805L312.658 176.562L308.415 172.319L304.173 176.562z" style="fill: #bf00bf; stroke: #bf00bf; stroke-linejoin: miter"/>
     <path d="M320.378 215.872L324.62 211.63L320.378 207.387L316.135 211.63z" style="fill: #bf00bf; stroke: #bf00bf; stroke-linejoin: miter"/>
     <path d="M332.34 145.737L336.583 141.494L332.34 137.252L328.097 141.494z" style="fill: #bf00bf; stroke: #bf00bf; stroke-linejoin: miter"/>
     <path d="M344.303 215.872L348.545 211.63L344.303 207.387L340.06 211.63z" style="fill: #bf00bf; stroke: #bf00bf; stroke-linejoin: miter"/>
     <path d="M356.265 87.291L360.508 83.048L356.265 78.806L352.022 83.048z" style="fill: #bf00bf; stroke: #bf00bf; stroke-linejoin: miter"/>
     <path d="M368.227 110.669L372.47 106.427L368.227 102.184L363.985 106.427z" style="fill: #bf00bf; stroke: #bf00bf; stroke-linejoin: miter"/>
     <path d="M380.19 98.98L384.433 94.738L380.19 90.495L375.947 94.738z" style="fill: #bf00bf; stroke: #bf00bf; stroke-linejoin: miter"/>
     <path d="M392.152 145.737L396.395 141.494L392.152 137.252L387.91 141.494z" style="fill: #bf00bf; stroke: #bf00bf; stroke-linejoin: miter"/>
     <path d="M404.115 169.115L408.357 164.873L404.115 160.63L399.872 164.873z" style="fill: #bf00bf; stroke: #bf00bf; stroke-linejoin: miter"/>
     <path d="M416.077 192.494L420.32 188.251L416.077 184.009L411.835 188.251z" style="fill: #bf00bf; stroke: #bf00bf; stroke-linejoin: miter"/>
     <path d="M428.04 157.426L432.282 153.184L428.04 148.941L423.797 153.184z" style="fill: #bf00bf; stroke: #bf00bf; stroke-linejoin: miter"/>
     <path d="M440.002 180.805L444.245 176.562L440.002 172.319L435.759 176.562z" style="fill: #bf00bf; stroke: #bf00bf; stroke-linejoin: miter"/>
     <path d="M451.965 180.805L456.207 176.562L451.965 172.319L447.722 176.562z" style="fill: #bf00bf; stroke: #bf00bf; stroke-linejoin: miter"/>
     <path d="M463.927 215.872L468.17 211.63L463.927 207.387L459.684 211.63z" style="fill: #bf00bf; stroke: #bf00bf; stroke-linejoin: miter"/>
     <path d="M475.889 227.561L480.132 223.319L475.889 219.076L471.647 223.319z" style="fill: #bf00bf; stroke: #bf00bf; stroke-linejoin: miter"/>
     <path d="M487.852 204.183L492.094 199.94L487.852 195.698L483.609 199.94z" style="fill: #bf00bf; stroke: #bf00bf; stroke-linejoin: miter"/>
     <path d="M499.814 215.872L504.057 211.63L499.814 207.387L495.572 211.63z" style="fill: #bf00bf; stroke: #bf00bf; stroke-linejoin: miter"/>
     <path d="M511.777 239.251L516.019 235.008L511.777 230.765L507.534 235.008z" style="fill: #bf00bf; stroke: #bf00bf; stroke-linejoin: miter"/>
     <path d="M523.739 239.251L527.982 235.008L523.739 230.765L519.497 235.008z" style="fill: #bf00bf; stroke: #bf00bf; stroke-linejoin: miter"/>
     <path d="M535.702 239.251L539.944 235.008L535.702 230.765L531.459 235.008z" style="fill: #bf00bf; stroke: #bf00bf; stroke-linejoin: miter"/>
     <path d="M547.664 239.251L551.907 235.008L547.664 230.765L543.421 235.008z" style="fill: #bf00bf; stroke: #bf00bf; stroke-linejoin: miter"/>
     <path d="M559.626 239.251L563.869 235.008L559.626 230.765L555.384 235.008z" style="fill: #bf00bf; stroke: #bf00bf; stroke-linejoin: miter"/>
     <path d="M571.589 239.251L575.832 235.008L571.589 230.765L567.346 235.008z" style="fill: #bf00bf; stroke: #bf00bf; stroke-linejoin: miter"/>
     <path d="M583.551 239.251L587.794 235.008L583.551 230.765L579.309 235.008z" style="fill: #bf00bf; stroke: #bf00bf; stroke-linejoin: miter"/>
     <path d="M595.514 239.251L599.756 235.008L595.514 230.765L591.271 235.008z" style="fill: #bf00bf; stroke: #bf00bf; stroke-linejoin: miter"/>
     <path d="M607.476 239.251L611.719 235.008L607.476 230.765L603.234 235.008z" style="fill: #bf00bf; stroke: #bf00bf; stroke-linejoin: miter"/>
     <path d="M619.439 239.251L623.681 235.008L619.439 230.765L615.196 235.008z" style="fill: #bf00bf; stroke: #bf00bf; stroke-linejoin: miter"/>
     <path d="M631.401 239.251L635.644 235.008L631.401 230.765L627.158 235.008z" style="fill: #bf00bf; stroke: #bf00bf; stroke-linejoin: miter"/>
     <path d="M643.364 239.251L647.606 235.008L643.364 230.765L639.121 235.008z" style="fill: #bf00bf; stroke: #bf00bf; stroke-linejoin: miter"/>
     <path d="M655.326 239.251L659.569 235.008L655.326 230.765L651.083 235.008z" style="fill: #bf00bf; stroke: #bf00bf; stroke-linejoin: miter"/>
     <path d="M667.288 239.251L671.531 235.008L667.288 230.765L663.046 235.008z" style="fill: #bf00bf; stroke: #bf00bf; stroke-linejoin: miter"/>
    </g>
   </g>
   <g id="line2d_71">
    <path d="M 57.204 153.1836 
L 69.16644 199.9404 
L 81.12888 188.2512 
L 93.09132 153.1836 
L 105.05376 188.2512 
L 117.0162 153.1836 
L 128.97864 176.562 
L 140.94108 141.4944 
L 152.90352 235.008 
L 164.86596 235.008 
L 176.8284 235.008 
L 188.79084 223.3188 
L 200.75328 235.008 
L 212.71572 235.008 
L 224.67816 235.008 
L 236.6406 235.008 
L 248.60304 235.008 
L 260.56548 235.008 
L 272.52792 235.008 
L 284.49036 235.008 
L 296.4528 235.008 
L 308.41524 235.008 
L 320.37768 235.008 
L 332.34012 235.008 
L 344.30256 235.008 
L 356.265 235.008 
L 368.22744 235.008 
L 380.18988 235.008 
L 392.15232 235.008 
L 404.11476 235.008 
L 416.0772 235.008 
L 428.03964 235.008 
L 440.00208 235.008 
L 451.96452 235.008 
L 463.92696 235.008 
L 475.8894 211.6296 
L 487.85184 235.008 
L 499.81428 235.008 
L 511.77672 235.008 
L 523.73916 235.008 
L 535.7016 235.008 
L 547.66404 211.6296 
L 559.62648 235.008 
L 571.58892 223.3188 
L 583.55136 176.562 
L 595.5138 223.3188 
L 607.47624 188.2512 
L 619.43868 223.3188 
L 631.40112 94.7376 
L 643.36356 118.116 
L 655.326 164.8728 
L 667.28844 207.421488 
" clip-path="url(#p76684aa1a0)" style="fill: none; stroke-dasharray: 7.4,3.2; stroke-dashoffset: 0; stroke: #000000; stroke-width: 2"/>
    <g clip-path="url(#p76684aa1a0)">
     <circle cx="57.204" cy="153.184" r="3" style="stroke: #000000"/>
     <circle cx="69.166" cy="199.94" r="3" style="stroke: #000000"/>
     <circle cx="81.129" cy="188.251" r="3" style="stroke: #000000"/>
     <circle cx="93.091" cy="153.184" r="3" style="stroke: #000000"/>
     <circle cx="105.054" cy="188.251" r="3" style="stroke: #000000"/>
     <circle cx="117.016" cy="153.184" r="3" style="stroke: #000000"/>
     <circle cx="128.979" cy="176.562" r="3" style="stroke: #000000"/>
     <circle cx="140.941" cy="141.494" r="3" style="stroke: #000000"/>
     <circle cx="152.904" cy="235.008" r="3" style="stroke: #000000"/>
     <circle cx="164.866" cy="235.008" r="3" style="stroke: #000000"/>
     <circle cx="176.828" cy="235.008" r="3" style="stroke: #000000"/>
     <circle cx="188.791" cy="223.319" r="3" style="stroke: #000000"/>
     <circle cx="200.753" cy="235.008" r="3" style="stroke: #000000"/>
     <circle cx="212.716" cy="235.008" r="3" style="stroke: #000000"/>
     <circle cx="224.678" cy="235.008" r="3" style="stroke: #000000"/>
     <circle cx="236.641" cy="235.008" r="3" style="stroke: #000000"/>
     <circle cx="248.603" cy="235.008" r="3" style="stroke: #000000"/>
     <circle cx="260.565" cy="235.008" r="3" style="stroke: #000000"/>
     <circle cx="272.528" cy="235.008" r="3" style="stroke: #000000"/>
     <circle cx="284.49" cy="235.008" r="3" style="stroke: #000000"/>
     <circle cx="296.453" cy="235.008" r="3" style="stroke: #000000"/>
     <circle cx="308.415" cy="235.008" r="3" style="stroke: #000000"/>
     <circle cx="320.378" cy="235.008" r="3" style="stroke: #000000"/>
     <circle cx="332.34" cy="235.008" r="3" style="stroke: #000000"/>
     <circle cx="344.303" cy="235.008" r="3" style="stroke: #000000"/>
     <circle cx="356.265" cy="235.008" r="3" style="stroke: #000000"/>
     <circle cx="368.227" cy="235.008" r="3" style="stroke: #000000"/>
     <circle cx="380.19" cy="235.008" r="3" style="stroke: #000000"/>
     <circle cx="392.152" cy="235.008" r="3" style="stroke: #000000"/>
     <circle cx="404.115" cy="235.008" r="3" style="stroke: #000000"/>
     <circle cx="416.077" cy="235.008" r="3" style="stroke: #000000"/>
     <circle cx="428.04" cy="235.008" r="3" style="stroke: #000000"/>
     <circle cx="440.002" cy="235.008" r="3" style="stroke: #000000"/>
     <circle cx="451.965" cy="235.008" r="3" style="stroke: #000000"/>
     <circle cx="463.927" cy="235.008" r="3" style="stroke: #000000"/>
     <circle cx="475.889" cy="211.63" r="3" style="stroke: #000000"/>
     <circle cx="487.852" cy="235.008" r="3" style="stroke: #000000"/>
     <circle cx="499.814" cy="235.008" r="3" style="stroke: #000000"/>
     <circle cx="511.777" cy="235.008" r="3" style="stroke: #000000"/>
     <circle cx="523.739" cy="235.008" r="3" style="stroke: #000000"/>
     <circle cx="535.702" cy="235.008" r="3" style="stroke: #000000"/>
     <circle cx="547.664" cy="211.63" r="3" style="stroke: #000000"/>
     <circle cx="559.626" cy="235.008" r="3" style="stroke: #000000"/>
     <circle cx="571.589" cy="223.319" r="3" style="stroke: #000000"/>
     <circle cx="583.551" cy="176.562" r="3" style="stroke: #000000"/>
     <circle cx="595.514" cy="223.319" r="3" style="stroke: #000000"/>
     <circle cx="607.476" cy="188.251" r="3" style="stroke: #000000"/>
     <circle cx="619.439" cy="223.319" r="3" style="stroke: #000000"/>
     <circle cx="631.401" cy="94.738" r="3" style="stroke: #000000"/>
     <circle cx="643.364" cy="118.116" r="3" style="stroke: #000000"/>
     <circle cx="655.326" cy="164.873" r="3" style="stroke: #000000"/>
     <circle cx="667.288" cy="207.421" r="3" style="stroke: #000000"/>
    </g>
   </g>
   <g id="line2d_72">
    <path d="M 57.204 235.008 
L 69.16644 235.008 
L 81.12888 235.008 
L 93.09132 235.008 
L 105.05376 235.008 
L 117.0162 235.008 
L 128.97864 235.008 
L 140.94108 235.008 
L 152.90352 235.008 
L 164.86596 235.008 
L 176.8284 235.008 
L 188.79084 235.008 
L 200.75328 235.008 
L 212.71572 235.008 
L 224.67816 223.3188 
L 236.6406 176.562 
L 248.60304 164.8728 
L 260.56548 211.6296 
L 272.52792 188.2512 
L 284.49036 199.9404 
L 296.4528 164.8728 
L 308.41524 176.562 
L 320.37768 188.2512 
L 332.34012 153.1836 
L 344.30256 188.2512 
L 356.265 164.8728 
L 368.22744 118.116 
L 380.18988 176.562 
L 392.15232 153.1836 
L 404.11476 141.4944 
L 416.0772 164.8728 
L 428.03964 118.116 
L 440.00208 141.4944 
L 451.96452 176.562 
L 463.92696 223.3188 
L 475.8894 176.562 
L 487.85184 235.008 
L 499.81428 235.008 
L 511.77672 235.008 
L 523.73916 235.008 
L 535.7016 235.008 
L 547.66404 235.008 
L 559.62648 235.008 
L 571.58892 235.008 
L 583.55136 235.008 
L 595.5138 235.008 
L 607.47624 235.008 
L 619.43868 235.008 
L 631.40112 235.008 
L 643.36356 235.008 
L 655.326 235.008 
L 667.28844 235.008 
" clip-path="url(#p76684aa1a0)" style="fill: none; stroke-dasharray: 7.4,3.2; stroke-dashoffset: 0; stroke: #ff0000; stroke-width: 2"/>
    <g clip-path="url(#p76684aa1a0)">
     <circle cx="57.204" cy="235.008" r="3" style="fill: #ff0000; stroke: #ff0000"/>
     <circle cx="69.166" cy="235.008" r="3" style="fill: #ff0000; stroke: #ff0000"/>
     <circle cx="81.129" cy="235.008" r="3" style="fill: #ff0000; stroke: #ff0000"/>
     <circle cx="93.091" cy="235.008" r="3" style="fill: #ff0000; stroke: #ff0000"/>
     <circle cx="105.054" cy="235.008" r="3" style="fill: #ff0000; stroke: #ff0000"/>
     <circle cx="117.016" cy="235.008" r="3" style="fill: #ff0000; stroke: #ff0000"/>
     <circle cx="128.979" cy="235.008" r="3" style="fill: #ff0000; stroke: #ff0000"/>
     <circle cx="140.941" cy="235.008" r="3" style="fill: #ff0000; stroke: #ff0000"/>
     <circle cx="152.904" cy="235.008" r="3" style="fill: #ff0000; stroke: #ff0000"/>
     <circle cx="164.866" cy="235.008" r="3" style="fill: #ff0000; stroke: #ff0000"/>
     <circle cx="176.828" cy="235.008" r="3" style="fill: #ff0000; stroke: #ff0000"/>
     <circle cx="188.791" cy="235.008" r="3" style="fill: #ff0000; stroke: #ff0000"/>
     <circle cx="200.753" cy="235.008" r="3" style="fill: #ff0000; stroke: #ff0000"/>
     <circle cx="212.716" cy="235.008" r="3" style="fill: #ff0000; stroke: #ff0000"/>
     <circle cx="224.678" cy="223.319" r="3" style="fill: #ff0000; stroke: #ff0000"/>
     <circle cx="236.641" cy="176.562" r="3" style="fill: #ff0000; stroke: #ff0000"/>
     <circle cx="248.603" cy="164.873" r="3" style="fill: #ff0000; stroke: #ff0000"/>
     <circle cx="260.565" cy="211.63" r="3" style="fill: #ff0000; stroke: #ff0000"/>
     <circle cx="272.528" cy="188.251" r="3" style="fill: #ff0000; stroke: #ff0000"/>
     <circle cx="284.49" cy="199.94" r="3" style="fill: #ff0000; stroke: #ff0000"/>
     <circle cx="296.453" cy="164.873" r="3" style="fill: #ff0000; stroke: #ff0000"/>
     <circle cx="308.415" cy="176.562" r="3" style="fill: #ff0000; stroke: #ff0000"/>
     <circle cx="320.378" cy="188.251" r="3" style="fill: #ff0000; stroke: #ff0000"/>
     <circle cx="332.34" cy="153.184" r="3" style="fill: #ff0000; stroke: #ff0000"/>
     <circle cx="344.303" cy="188.251" r="3" style="fill: #ff0000; stroke: #ff0000"/>
     <circle cx="356.265" cy="164.873" r="3" style="fill: #ff0000; stroke: #ff0000"/>
     <circle cx="368.227" cy="118.116" r="3" style="fill: #ff0000; stroke: #ff0000"/>
     <circle cx="380.19" cy="176.562" r="3" style="fill: #ff0000; stroke: #ff0000"/>
     <circle cx="392.152" cy="153.184" r="3" style="fill: #ff0000; stroke: #ff0000"/>
     <circle cx="404.115" cy="141.494" r="3" style="fill: #ff0000; stroke: #ff0000"/>
     <circle cx="416.077" cy="164.873" r="3" style="fill: #ff0000; stroke: #ff0000"/>
     <circle cx="428.04" cy="118.116" r="3" style="fill: #ff0000; stroke: #ff0000"/>
     <circle cx="440.002" cy="141.494" r="3" style="fill: #ff0000; stroke: #ff0000"/>
     <circle cx="451.965" cy="176.562" r="3" style="fill: #ff0000; stroke: #ff0000"/>
     <circle cx="463.927" cy="223.319" r="3" style="fill: #ff0000; stroke: #ff0000"/>
     <circle cx="475.889" cy="176.562" r="3" style="fill: #ff0000; stroke: #ff0000"/>
     <circle cx="487.852" cy="235.008" r="3" style="fill: #ff0000; stroke: #ff0000"/>
     <circle cx="499.814" cy="235.008" r="3" style="fill: #ff0000; stroke: #ff0000"/>
     <circle cx="511.777" cy="235.008" r="3" style="fill: #ff0000; stroke: #ff0000"/>
     <circle cx="523.739" cy="235.008" r="3" style="fill: #ff0000; stroke: #ff0000"/>
     <circle cx="535.702" cy="235.008" r="3" style="fill: #ff0000; stroke: #ff0000"/>
     <circle cx="547.664" cy="235.008" r="3" style="fill: #ff0000; stroke: #ff0000"/>
     <circle cx="559.626" cy="235.008" r="3" style="fill: #ff0000; stroke: #ff0000"/>
     <circle cx="571.589" cy="235.008" r="3" style="fill: #ff0000; stroke: #ff0000"/>
     <circle cx="583.551" cy="235.008" r="3" style="fill: #ff0000; stroke: #ff0000"/>
     <circle cx="595.514" cy="235.008" r="3" style="fill: #ff0000; stroke: #ff0000"/>
     <circle cx="607.476" cy="235.008" r="3" style="fill: #ff0000; stroke: #ff0000"/>
     <circle cx="619.439" cy="235.008" r="3" style="fill: #ff0000; stroke: #ff0000"/>
     <circle cx="631.401" cy="235.008" r="3" style="fill: #ff0000; stroke: #ff0000"/>
     <circle cx="643.364" cy="235.008" r="3" style="fill: #ff0000; stroke: #ff0000"/>
     <circle cx="655.326" cy="235.008" r="3" style="fill: #ff0000; stroke: #ff0000"/>
     <circle cx="667.288" cy="235.008" r="3" style="fill: #ff0000; stroke: #ff0000"/>
    </g>
   </g>
   <g id="line2d_73">
    <path d="M 57.204 235.008 
L 69.16644 235.008 
L 81.12888 235.008 
L 93.09132 235.008 
L 105.05376 235.008 
L 117.0162 235.008 
L 128.97864 235.008 
L 140.94108 235.008 
L 152.90352 235.008 
L 164.86596 235.008 
L 176.8284 235.008 
L 188.79084 235.008 
L 200.75328 235.008 
L 212.71572 223.3188 
L 224.67816 235.008 
L 236.6406 223.3188 
L 248.60304 235.008 
L 260.56548 235.008 
L 272.52792 235.008 
L 284.49036 235.008 
L 296.4528 223.3188 
L 308.41524 106.4268 
L 320.37768 223.3188 
L 332.34012 211.6296 
L 344.30256 223.3188 
L 356.265 211.6296 
L 368.22744 235.008 
L 380.18988 235.008 
L 392.15232 235.008 
L 404.11476 211.6296 
L 416.0772 235.008 
L 428.03964 235.008 
L 440.00208 235.008 
L 451.96452 235.008 
L 463.92696 235.008 
L 475.8894 235.008 
L 487.85184 235.008 
L 499.81428 223.3188 
L 511.77672 235.008 
L 523.73916 235.008 
L 535.7016 235.008 
L 547.66404 235.008 
L 559.62648 235.008 
L 571.58892 235.008 
L 583.55136 235.008 
L 595.5138 235.008 
L 607.47624 235.008 
L 619.43868 235.008 
L 631.40112 235.008 
L 643.36356 235.008 
L 655.326 235.008 
L 667.28844 235.008 
" clip-path="url(#p76684aa1a0)" style="fill: none; stroke-dasharray: 7.4,3.2; stroke-dashoffset: 0; stroke: #008000; stroke-width: 2"/>
    <g clip-path="url(#p76684aa1a0)">
     <circle cx="57.204" cy="235.008" r="3" style="fill: #008000; stroke: #008000"/>
     <circle cx="69.166" cy="235.008" r="3" style="fill: #008000; stroke: #008000"/>
     <circle cx="81.129" cy="235.008" r="3" style="fill: #008000; stroke: #008000"/>
     <circle cx="93.091" cy="235.008" r="3" style="fill: #008000; stroke: #008000"/>
     <circle cx="105.054" cy="235.008" r="3" style="fill: #008000; stroke: #008000"/>
     <circle cx="117.016" cy="235.008" r="3" style="fill: #008000; stroke: #008000"/>
     <circle cx="128.979" cy="235.008" r="3" style="fill: #008000; stroke: #008000"/>
     <circle cx="140.941" cy="235.008" r="3" style="fill: #008000; stroke: #008000"/>
     <circle cx="152.904" cy="235.008" r="3" style="fill: #008000; stroke: #008000"/>
     <circle cx="164.866" cy="235.008" r="3" style="fill: #008000; stroke: #008000"/>
     <circle cx="176.828" cy="235.008" r="3" style="fill: #008000; stroke: #008000"/>
     <circle cx="188.791" cy="235.008" r="3" style="fill: #008000; stroke: #008000"/>
     <circle cx="200.753" cy="235.008" r="3" style="fill: #008000; stroke: #008000"/>
     <circle cx="212.716" cy="223.319" r="3" style="fill: #008000; stroke: #008000"/>
     <circle cx="224.678" cy="235.008" r="3" style="fill: #008000; stroke: #008000"/>
     <circle cx="236.641" cy="223.319" r="3" style="fill: #008000; stroke: #008000"/>
     <circle cx="248.603" cy="235.008" r="3" style="fill: #008000; stroke: #008000"/>
     <circle cx="260.565" cy="235.008" r="3" style="fill: #008000; stroke: #008000"/>
     <circle cx="272.528" cy="235.008" r="3" style="fill: #008000; stroke: #008000"/>
     <circle cx="284.49" cy="235.008" r="3" style="fill: #008000; stroke: #008000"/>
     <circle cx="296.453" cy="223.319" r="3" style="fill: #008000; stroke: #008000"/>
     <circle cx="308.415" cy="106.427" r="3" style="fill: #008000; stroke: #008000"/>
     <circle cx="320.378" cy="223.319" r="3" style="fill: #008000; stroke: #008000"/>
     <circle cx="332.34" cy="211.63" r="3" style="fill: #008000; stroke: #008000"/>
     <circle cx="344.303" cy="223.319" r="3" style="fill: #008000; stroke: #008000"/>
     <circle cx="356.265" cy="211.63" r="3" style="fill: #008000; stroke: #008000"/>
     <circle cx="368.227" cy="235.008" r="3" style="fill: #008000; stroke: #008000"/>
     <circle cx="380.19" cy="235.008" r="3" style="fill: #008000; stroke: #008000"/>
     <circle cx="392.152" cy="235.008" r="3" style="fill: #008000; stroke: #008000"/>
     <circle cx="404.115" cy="211.63" r="3" style="fill: #008000; stroke: #008000"/>
     <circle cx="416.077" cy="235.008" r="3" style="fill: #008000; stroke: #008000"/>
     <circle cx="428.04" cy="235.008" r="3" style="fill: #008000; stroke: #008000"/>
     <circle cx="440.002" cy="235.008" r="3" style="fill: #008000; stroke: #008000"/>
     <circle cx="451.965" cy="235.008" r="3" style="fill: #008000; stroke: #008000"/>
     <circle cx="463.927" cy="235.008" r="3" style="fill: #008000; stroke: #008000"/>
     <circle cx="475.889" cy="235.008" r="3" style="fill: #008000; stroke: #008000"/>
     <circle cx="487.852" cy="235.008" r="3" style="fill: #008000; stroke: #008000"/>
     <circle cx="499.814" cy="223.319" r="3" style="fill: #008000; stroke: #008000"/>
     <circle cx="511.777" cy="235.008" r="3" style="fill: #008000; stroke: #008000"/>
     <circle cx="523.739" cy="235.008" r="3" style="fill: #008000; stroke: #008000"/>
     <circle cx="535.702" cy="235.008" r="3" style="fill: #008000; stroke: #008000"/>
     <circle cx="547.664" cy="235.008" r="3" style="fill: #008000; stroke: #008000"/>
     <circle cx="559.626" cy="235.008" r="3" style="fill: #008000; stroke: #008000"/>
     <circle cx="571.589" cy="235.008" r="3" style="fill: #008000; stroke: #008000"/>
     <circle cx="583.551" cy="235.008" r="3" style="fill: #008000; stroke: #008000"/>
     <circle cx="595.514" cy="235.008" r="3" style="fill: #008000; stroke: #008000"/>
     <circle cx="607.476" cy="235.008" r="3" style="fill: #008000; stroke: #008000"/>
     <circle cx="619.439" cy="235.008" r="3" style="fill: #008000; stroke: #008000"/>
     <circle cx="631.401" cy="235.008" r="3" style="fill: #008000; stroke: #008000"/>
     <circle cx="643.364" cy="235.008" r="3" style="fill: #008000; stroke: #008000"/>
     <circle cx="655.326" cy="235.008" r="3" style="fill: #008000; stroke: #008000"/>
     <circle cx="667.288" cy="235.008" r="3" style="fill: #008000; stroke: #008000"/>
    </g>
   </g>
   <g id="line2d_74">
    <path d="M 57.204 235.008 
L 69.16644 223.3188 
L 81.12888 235.008 
L 93.09132 235.008 
L 105.05376 211.6296 
L 117.0162 211.6296 
L 128.97864 199.9404 
L 140.94108 188.2512 
L 152.90352 223.3188 
L 164.86596 211.6296 
L 176.8284 211.6296 
L 188.79084 141.4944 
L 200.75328 164.8728 
L 212.71572 199.9404 
L 224.67816 176.562 
L 236.6406 199.9404 
L 248.60304 199.9404 
L 260.56548 211.6296 
L 272.52792 199.9404 
L 284.49036 211.6296 
L 296.4528 211.6296 
L 308.41524 129.8052 
L 320.37768 176.562 
L 332.34012 211.6296 
L 344.30256 176.562 
L 356.265 153.1836 
L 368.22744 199.9404 
L 380.18988 153.1836 
L 392.15232 141.4944 
L 404.11476 199.9404 
L 416.0772 235.008 
L 428.03964 199.9404 
L 440.00208 153.1836 
L 451.96452 106.4268 
L 463.92696 153.1836 
L 475.8894 129.8052 
L 487.85184 153.1836 
L 499.81428 164.8728 
L 511.77672 223.3188 
L 523.73916 199.9404 
L 535.7016 199.9404 
L 547.66404 176.562 
L 559.62648 223.3188 
L 571.58892 223.3188 
L 583.55136 223.3188 
L 595.5138 235.008 
L 607.47624 235.008 
L 619.43868 223.3188 
L 631.40112 235.008 
L 643.36356 235.008 
L 655.326 235.008 
L 667.28844 235.008 
" clip-path="url(#p76684aa1a0)" style="fill: none; stroke-dasharray: 7.4,3.2; stroke-dashoffset: 0; stroke: #0000ff; stroke-width: 2"/>
    <g clip-path="url(#p76684aa1a0)">
     <circle cx="57.204" cy="235.008" r="3" style="fill: #0000ff; stroke: #0000ff"/>
     <circle cx="69.166" cy="223.319" r="3" style="fill: #0000ff; stroke: #0000ff"/>
     <circle cx="81.129" cy="235.008" r="3" style="fill: #0000ff; stroke: #0000ff"/>
     <circle cx="93.091" cy="235.008" r="3" style="fill: #0000ff; stroke: #0000ff"/>
     <circle cx="105.054" cy="211.63" r="3" style="fill: #0000ff; stroke: #0000ff"/>
     <circle cx="117.016" cy="211.63" r="3" style="fill: #0000ff; stroke: #0000ff"/>
     <circle cx="128.979" cy="199.94" r="3" style="fill: #0000ff; stroke: #0000ff"/>
     <circle cx="140.941" cy="188.251" r="3" style="fill: #0000ff; stroke: #0000ff"/>
     <circle cx="152.904" cy="223.319" r="3" style="fill: #0000ff; stroke: #0000ff"/>
     <circle cx="164.866" cy="211.63" r="3" style="fill: #0000ff; stroke: #0000ff"/>
     <circle cx="176.828" cy="211.63" r="3" style="fill: #0000ff; stroke: #0000ff"/>
     <circle cx="188.791" cy="141.494" r="3" style="fill: #0000ff; stroke: #0000ff"/>
     <circle cx="200.753" cy="164.873" r="3" style="fill: #0000ff; stroke: #0000ff"/>
     <circle cx="212.716" cy="199.94" r="3" style="fill: #0000ff; stroke: #0000ff"/>
     <circle cx="224.678" cy="176.562" r="3" style="fill: #0000ff; stroke: #0000ff"/>
     <circle cx="236.641" cy="199.94" r="3" style="fill: #0000ff; stroke: #0000ff"/>
     <circle cx="248.603" cy="199.94" r="3" style="fill: #0000ff; stroke: #0000ff"/>
     <circle cx="260.565" cy="211.63" r="3" style="fill: #0000ff; stroke: #0000ff"/>
     <circle cx="272.528" cy="199.94" r="3" style="fill: #0000ff; stroke: #0000ff"/>
     <circle cx="284.49" cy="211.63" r="3" style="fill: #0000ff; stroke: #0000ff"/>
     <circle cx="296.453" cy="211.63" r="3" style="fill: #0000ff; stroke: #0000ff"/>
     <circle cx="308.415" cy="129.805" r="3" style="fill: #0000ff; stroke: #0000ff"/>
     <circle cx="320.378" cy="176.562" r="3" style="fill: #0000ff; stroke: #0000ff"/>
     <circle cx="332.34" cy="211.63" r="3" style="fill: #0000ff; stroke: #0000ff"/>
     <circle cx="344.303" cy="176.562" r="3" style="fill: #0000ff; stroke: #0000ff"/>
     <circle cx="356.265" cy="153.184" r="3" style="fill: #0000ff; stroke: #0000ff"/>
     <circle cx="368.227" cy="199.94" r="3" style="fill: #0000ff; stroke: #0000ff"/>
     <circle cx="380.19" cy="153.184" r="3" style="fill: #0000ff; stroke: #0000ff"/>
     <circle cx="392.152" cy="141.494" r="3" style="fill: #0000ff; stroke: #0000ff"/>
     <circle cx="404.115" cy="199.94" r="3" style="fill: #0000ff; stroke: #0000ff"/>
     <circle cx="416.077" cy="235.008" r="3" style="fill: #0000ff; stroke: #0000ff"/>
     <circle cx="428.04" cy="199.94" r="3" style="fill: #0000ff; stroke: #0000ff"/>
     <circle cx="440.002" cy="153.184" r="3" style="fill: #0000ff; stroke: #0000ff"/>
     <circle cx="451.965" cy="106.427" r="3" style="fill: #0000ff; stroke: #0000ff"/>
     <circle cx="463.927" cy="153.184" r="3" style="fill: #0000ff; stroke: #0000ff"/>
     <circle cx="475.889" cy="129.805" r="3" style="fill: #0000ff; stroke: #0000ff"/>
     <circle cx="487.852" cy="153.184" r="3" style="fill: #0000ff; stroke: #0000ff"/>
     <circle cx="499.814" cy="164.873" r="3" style="fill: #0000ff; stroke: #0000ff"/>
     <circle cx="511.777" cy="223.319" r="3" style="fill: #0000ff; stroke: #0000ff"/>
     <circle cx="523.739" cy="199.94" r="3" style="fill: #0000ff; stroke: #0000ff"/>
     <circle cx="535.702" cy="199.94" r="3" style="fill: #0000ff; stroke: #0000ff"/>
     <circle cx="547.664" cy="176.562" r="3" style="fill: #0000ff; stroke: #0000ff"/>
     <circle cx="559.626" cy="223.319" r="3" style="fill: #0000ff; stroke: #0000ff"/>
     <circle cx="571.589" cy="223.319" r="3" style="fill: #0000ff; stroke: #0000ff"/>
     <circle cx="583.551" cy="223.319" r="3" style="fill: #0000ff; stroke: #0000ff"/>
     <circle cx="595.514" cy="235.008" r="3" style="fill: #0000ff; stroke: #0000ff"/>
     <circle cx="607.476" cy="235.008" r="3" style="fill: #0000ff; stroke: #0000ff"/>
     <circle cx="619.439" cy="223.319" r="3" style="fill: #0000ff; stroke: #0000ff"/>
     <circle cx="631.401" cy="235.008" r="3" style="fill: #0000ff; stroke: #0000ff"/>
     <circle cx="643.364" cy="235.008" r="3" style="fill: #0000ff; stroke: #0000ff"/>
     <circle cx="655.326" cy="235.008" r="3" style="fill: #0000ff; stroke: #0000ff"/>
     <circle cx="667.288" cy="235.008" r="3" style="fill: #0000ff; stroke: #0000ff"/>
    </g>
   </g>
   <g id="line2d_75">
    <path d="M 57.204 235.008 
L 69.16644 235.008 
L 81.12888 235.008 
L 93.09132 235.008 
L 105.05376 235.008 
L 117.0162 235.008 
L 128.97864 235.008 
L 140.94108 235.008 
L 152.90352 235.008 
L 164.86596 235.008 
L 176.8284 235.008 
L 188.79084 235.008 
L 200.75328 235.008 
L 212.71572 235.008 
L 224.67816 235.008 
L 236.6406 235.008 
L 248.60304 235.008 
L 260.56548 235.008 
L 272.52792 235.008 
L 284.49036 235.008 
L 296.4528 235.008 
L 308.41524 235.008 
L 320.37768 235.008 
L 332.34012 235.008 
L 344.30256 235.008 
L 356.265 235.008 
L 368.22744 223.3188 
L 380.18988 235.008 
L 392.15232 235.008 
L 404.11476 235.008 
L 416.0772 176.562 
L 428.03964 106.4268 
L 440.00208 188.2512 
L 451.96452 235.008 
L 463.92696 235.008 
L 475.8894 235.008 
L 487.85184 235.008 
L 499.81428 235.008 
L 511.77672 235.008 
L 523.73916 235.008 
L 535.7016 235.008 
L 547.66404 235.008 
L 559.62648 235.008 
L 571.58892 235.008 
L 583.55136 235.008 
L 595.5138 235.008 
L 607.47624 235.008 
L 619.43868 235.008 
L 631.40112 235.008 
L 643.36356 235.008 
L 655.326 235.008 
L 667.28844 235.008 
" clip-path="url(#p76684aa1a0)" style="fill: none; stroke-dasharray: 7.4,3.2; stroke-dashoffset: 0; stroke: #00bfbf; stroke-width: 2"/>
    <g clip-path="url(#p76684aa1a0)">
     <circle cx="57.204" cy="235.008" r="3" style="fill: #00bfbf; stroke: #00bfbf"/>
     <circle cx="69.166" cy="235.008" r="3" style="fill: #00bfbf; stroke: #00bfbf"/>
     <circle cx="81.129" cy="235.008" r="3" style="fill: #00bfbf; stroke: #00bfbf"/>
     <circle cx="93.091" cy="235.008" r="3" style="fill: #00bfbf; stroke: #00bfbf"/>
     <circle cx="105.054" cy="235.008" r="3" style="fill: #00bfbf; stroke: #00bfbf"/>
     <circle cx="117.016" cy="235.008" r="3" style="fill: #00bfbf; stroke: #00bfbf"/>
     <circle cx="128.979" cy="235.008" r="3" style="fill: #00bfbf; stroke: #00bfbf"/>
     <circle cx="140.941" cy="235.008" r="3" style="fill: #00bfbf; stroke: #00bfbf"/>
     <circle cx="152.904" cy="235.008" r="3" style="fill: #00bfbf; stroke: #00bfbf"/>
     <circle cx="164.866" cy="235.008" r="3" style="fill: #00bfbf; stroke: #00bfbf"/>
     <circle cx="176.828" cy="235.008" r="3" style="fill: #00bfbf; stroke: #00bfbf"/>
     <circle cx="188.791" cy="235.008" r="3" style="fill: #00bfbf; stroke: #00bfbf"/>
     <circle cx="200.753" cy="235.008" r="3" style="fill: #00bfbf; stroke: #00bfbf"/>
     <circle cx="212.716" cy="235.008" r="3" style="fill: #00bfbf; stroke: #00bfbf"/>
     <circle cx="224.678" cy="235.008" r="3" style="fill: #00bfbf; stroke: #00bfbf"/>
     <circle cx="236.641" cy="235.008" r="3" style="fill: #00bfbf; stroke: #00bfbf"/>
     <circle cx="248.603" cy="235.008" r="3" style="fill: #00bfbf; stroke: #00bfbf"/>
     <circle cx="260.565" cy="235.008" r="3" style="fill: #00bfbf; stroke: #00bfbf"/>
     <circle cx="272.528" cy="235.008" r="3" style="fill: #00bfbf; stroke: #00bfbf"/>
     <circle cx="284.49" cy="235.008" r="3" style="fill: #00bfbf; stroke: #00bfbf"/>
     <circle cx="296.453" cy="235.008" r="3" style="fill: #00bfbf; stroke: #00bfbf"/>
     <circle cx="308.415" cy="235.008" r="3" style="fill: #00bfbf; stroke: #00bfbf"/>
     <circle cx="320.378" cy="235.008" r="3" style="fill: #00bfbf; stroke: #00bfbf"/>
     <circle cx="332.34" cy="235.008" r="3" style="fill: #00bfbf; stroke: #00bfbf"/>
     <circle cx="344.303" cy="235.008" r="3" style="fill: #00bfbf; stroke: #00bfbf"/>
     <circle cx="356.265" cy="235.008" r="3" style="fill: #00bfbf; stroke: #00bfbf"/>
     <circle cx="368.227" cy="223.319" r="3" style="fill: #00bfbf; stroke: #00bfbf"/>
     <circle cx="380.19" cy="235.008" r="3" style="fill: #00bfbf; stroke: #00bfbf"/>
     <circle cx="392.152" cy="235.008" r="3" style="fill: #00bfbf; stroke: #00bfbf"/>
     <circle cx="404.115" cy="235.008" r="3" style="fill: #00bfbf; stroke: #00bfbf"/>
     <circle cx="416.077" cy="176.562" r="3" style="fill: #00bfbf; stroke: #00bfbf"/>
     <circle cx="428.04" cy="106.427" r="3" style="fill: #00bfbf; stroke: #00bfbf"/>
     <circle cx="440.002" cy="188.251" r="3" style="fill: #00bfbf; stroke: #00bfbf"/>
     <circle cx="451.965" cy="235.008" r="3" style="fill: #00bfbf; stroke: #00bfbf"/>
     <circle cx="463.927" cy="235.008" r="3" style="fill: #00bfbf; stroke: #00bfbf"/>
     <circle cx="475.889" cy="235.008" r="3" style="fill: #00bfbf; stroke: #00bfbf"/>
     <circle cx="487.852" cy="235.008" r="3" style="fill: #00bfbf; stroke: #00bfbf"/>
     <circle cx="499.814" cy="235.008" r="3" style="fill: #00bfbf; stroke: #00bfbf"/>
     <circle cx="511.777" cy="235.008" r="3" style="fill: #00bfbf; stroke: #00bfbf"/>
     <circle cx="523.739" cy="235.008" r="3" style="fill: #00bfbf; stroke: #00bfbf"/>
     <circle cx="535.702" cy="235.008" r="3" style="fill: #00bfbf; stroke: #00bfbf"/>
     <circle cx="547.664" cy="235.008" r="3" style="fill: #00bfbf; stroke: #00bfbf"/>
     <circle cx="559.626" cy="235.008" r="3" style="fill: #00bfbf; stroke: #00bfbf"/>
     <circle cx="571.589" cy="235.008" r="3" style="fill: #00bfbf; stroke: #00bfbf"/>
     <circle cx="583.551" cy="235.008" r="3" style="fill: #00bfbf; stroke: #00bfbf"/>
     <circle cx="595.514" cy="235.008" r="3" style="fill: #00bfbf; stroke: #00bfbf"/>
     <circle cx="607.476" cy="235.008" r="3" style="fill: #00bfbf; stroke: #00bfbf"/>
     <circle cx="619.439" cy="235.008" r="3" style="fill: #00bfbf; stroke: #00bfbf"/>
     <circle cx="631.401" cy="235.008" r="3" style="fill: #00bfbf; stroke: #00bfbf"/>
     <circle cx="643.364" cy="235.008" r="3" style="fill: #00bfbf; stroke: #00bfbf"/>
     <circle cx="655.326" cy="235.008" r="3" style="fill: #00bfbf; stroke: #00bfbf"/>
     <circle cx="667.288" cy="235.008" r="3" style="fill: #00bfbf; stroke: #00bfbf"/>
    </g>
   </g>
   <g id="line2d_76">
    <path d="M 57.204 235.008 
L 69.16644 235.008 
L 81.12888 235.008 
L 93.09132 235.008 
L 105.05376 235.008 
L 117.0162 235.008 
L 128.97864 235.008 
L 140.94108 235.008 
L 152.90352 235.008 
L 164.86596 235.008 
L 176.8284 235.008 
L 188.79084 235.008 
L 200.75328 235.008 
L 212.71572 223.3188 
L 224.67816 223.3188 
L 236.6406 199.9404 
L 248.60304 199.9404 
L 260.56548 211.6296 
L 272.52792 176.562 
L 284.49036 211.6296 
L 296.4528 211.6296 
L 308.41524 164.8728 
L 320.37768 199.9404 
L 332.34012 188.2512 
L 344.30256 176.562 
L 356.265 188.2512 
L 368.22744 199.9404 
L 380.18988 188.2512 
L 392.15232 164.8728 
L 404.11476 188.2512 
L 416.0772 188.2512 
L 428.03964 118.116 
L 440.00208 176.562 
L 451.96452 188.2512 
L 463.92696 223.3188 
L 475.8894 188.2512 
L 487.85184 223.3188 
L 499.81428 235.008 
L 511.77672 235.008 
L 523.73916 235.008 
L 535.7016 235.008 
L 547.66404 235.008 
L 559.62648 235.008 
L 571.58892 235.008 
L 583.55136 235.008 
L 595.5138 235.008 
L 607.47624 235.008 
L 619.43868 235.008 
L 631.40112 235.008 
L 643.36356 235.008 
L 655.326 235.008 
L 667.28844 235.008 
" clip-path="url(#p76684aa1a0)" style="fill: none; stroke-dasharray: 7.4,3.2; stroke-dashoffset: 0; stroke: #bf00bf; stroke-width: 2"/>
    <g clip-path="url(#p76684aa1a0)">
     <circle cx="57.204" cy="235.008" r="3" style="fill: #bf00bf; stroke: #bf00bf"/>
     <circle cx="69.166" cy="235.008" r="3" style="fill: #bf00bf; stroke: #bf00bf"/>
     <circle cx="81.129" cy="235.008" r="3" style="fill: #bf00bf; stroke: #bf00bf"/>
     <circle cx="93.091" cy="235.008" r="3" style="fill: #bf00bf; stroke: #bf00bf"/>
     <circle cx="105.054" cy="235.008" r="3" style="fill: #bf00bf; stroke: #bf00bf"/>
     <circle cx="117.016" cy="235.008" r="3" style="fill: #bf00bf; stroke: #bf00bf"/>
     <circle cx="128.979" cy="235.008" r="3" style="fill: #bf00bf; stroke: #bf00bf"/>
     <circle cx="140.941" cy="235.008" r="3" style="fill: #bf00bf; stroke: #bf00bf"/>
     <circle cx="152.904" cy="235.008" r="3" style="fill: #bf00bf; stroke: #bf00bf"/>
     <circle cx="164.866" cy="235.008" r="3" style="fill: #bf00bf; stroke: #bf00bf"/>
     <circle cx="176.828" cy="235.008" r="3" style="fill: #bf00bf; stroke: #bf00bf"/>
     <circle cx="188.791" cy="235.008" r="3" style="fill: #bf00bf; stroke: #bf00bf"/>
     <circle cx="200.753" cy="235.008" r="3" style="fill: #bf00bf; stroke: #bf00bf"/>
     <circle cx="212.716" cy="223.319" r="3" style="fill: #bf00bf; stroke: #bf00bf"/>
     <circle cx="224.678" cy="223.319" r="3" style="fill: #bf00bf; stroke: #bf00bf"/>
     <circle cx="236.641" cy="199.94" r="3" style="fill: #bf00bf; stroke: #bf00bf"/>
     <circle cx="248.603" cy="199.94" r="3" style="fill: #bf00bf; stroke: #bf00bf"/>
     <circle cx="260.565" cy="211.63" r="3" style="fill: #bf00bf; stroke: #bf00bf"/>
     <circle cx="272.528" cy="176.562" r="3" style="fill: #bf00bf; stroke: #bf00bf"/>
     <circle cx="284.49" cy="211.63" r="3" style="fill: #bf00bf; stroke: #bf00bf"/>
     <circle cx="296.453" cy="211.63" r="3" style="fill: #bf00bf; stroke: #bf00bf"/>
     <circle cx="308.415" cy="164.873" r="3" style="fill: #bf00bf; stroke: #bf00bf"/>
     <circle cx="320.378" cy="199.94" r="3" style="fill: #bf00bf; stroke: #bf00bf"/>
     <circle cx="332.34" cy="188.251" r="3" style="fill: #bf00bf; stroke: #bf00bf"/>
     <circle cx="344.303" cy="176.562" r="3" style="fill: #bf00bf; stroke: #bf00bf"/>
     <circle cx="356.265" cy="188.251" r="3" style="fill: #bf00bf; stroke: #bf00bf"/>
     <circle cx="368.227" cy="199.94" r="3" style="fill: #bf00bf; stroke: #bf00bf"/>
     <circle cx="380.19" cy="188.251" r="3" style="fill: #bf00bf; stroke: #bf00bf"/>
     <circle cx="392.152" cy="164.873" r="3" style="fill: #bf00bf; stroke: #bf00bf"/>
     <circle cx="404.115" cy="188.251" r="3" style="fill: #bf00bf; stroke: #bf00bf"/>
     <circle cx="416.077" cy="188.251" r="3" style="fill: #bf00bf; stroke: #bf00bf"/>
     <circle cx="428.04" cy="118.116" r="3" style="fill: #bf00bf; stroke: #bf00bf"/>
     <circle cx="440.002" cy="176.562" r="3" style="fill: #bf00bf; stroke: #bf00bf"/>
     <circle cx="451.965" cy="188.251" r="3" style="fill: #bf00bf; stroke: #bf00bf"/>
     <circle cx="463.927" cy="223.319" r="3" style="fill: #bf00bf; stroke: #bf00bf"/>
     <circle cx="475.889" cy="188.251" r="3" style="fill: #bf00bf; stroke: #bf00bf"/>
     <circle cx="487.852" cy="223.319" r="3" style="fill: #bf00bf; stroke: #bf00bf"/>
     <circle cx="499.814" cy="235.008" r="3" style="fill: #bf00bf; stroke: #bf00bf"/>
     <circle cx="511.777" cy="235.008" r="3" style="fill: #bf00bf; stroke: #bf00bf"/>
     <circle cx="523.739" cy="235.008" r="3" style="fill: #bf00bf; stroke: #bf00bf"/>
     <circle cx="535.702" cy="235.008" r="3" style="fill: #bf00bf; stroke: #bf00bf"/>
     <circle cx="547.664" cy="235.008" r="3" style="fill: #bf00bf; stroke: #bf00bf"/>
     <circle cx="559.626" cy="235.008" r="3" style="fill: #bf00bf; stroke: #bf00bf"/>
     <circle cx="571.589" cy="235.008" r="3" style="fill: #bf00bf; stroke: #bf00bf"/>
     <circle cx="583.551" cy="235.008" r="3" style="fill: #bf00bf; stroke: #bf00bf"/>
     <circle cx="595.514" cy="235.008" r="3" style="fill: #bf00bf; stroke: #bf00bf"/>
     <circle cx="607.476" cy="235.008" r="3" style="fill: #bf00bf; stroke: #bf00bf"/>
     <circle cx="619.439" cy="235.008" r="3" style="fill: #bf00bf; stroke: #bf00bf"/>
     <circle cx="631.401" cy="235.008" r="3" style="fill: #bf00bf; stroke: #bf00bf"/>
     <circle cx="643.364" cy="235.008" r="3" style="fill: #bf00bf; stroke: #bf00bf"/>
     <circle cx="655.326" cy="235.008" r="3" style="fill: #bf00bf; stroke: #bf00bf"/>
     <circle cx="667.288" cy="235.008" r="3" style="fill: #bf00bf; stroke: #bf00bf"/>
    </g>
   </g>
   <g id="patch_3">
    <path d="M 48.6 237.96 
L 48.6 56.52 
" style="fill: none; stroke: #000000; stroke-width: 0.8; stroke-linejoin: miter; stroke-linecap: square"/>
   </g>
   <g id="patch_4">
    <path d="M 670.68 237.96 
L 670.68 56.52 
" style="fill: none; stroke: #000000; stroke-width: 0.8; stroke-linejoin: miter; stroke-linecap: square"/>
   </g>
   <g id="patch_5">
    <path d="M 48.6 237.96 
L 670.68 237.96 
" style="fill: none; stroke: #000000; stroke-width: 0.8; stroke-linejoin: miter; stroke-linecap: square"/>
   </g>
   <g id="patch_6">
    <path d="M 48.6 56.52 
L 670.68 56.52 
" style="fill: none; stroke: #000000; stroke-width: 0.8; stroke-linejoin: miter; stroke-linecap: square"/>
   </g>
   <g id="axtitle" transform="translate(0.000 -0.504)">
    <g transform="translate(-0.900 -0.648)"><text style="font-size: 10px; font-family: 'DejaVu Sans', 'Liberation Sans', sans-serif" transform="translate(222.485312 27.164375)">¿Dónde está el clima más fiable para el parapente XC?</text></g>
    <g transform="translate(-0.432 0.000)"><text style="font-size: 10px; font-family: 'DejaVu Sans', 'Liberation Sans', sans-serif" transform="translate(72.901719 38.842188)">Días volables XC: mín. 3 vuelos XC &gt;100 pts en una zona de 200 km de diámetro. Promedio 10 años (2015–2024).</text></g>
    <g transform="translate(0.000 0.000)"><text style="font-size: 10px; font-family: 'DejaVu Sans', 'Liberation Sans', sans-serif" transform="translate(75.028281 50.52)">Fuente de datos: Xcontest 2015–2024. Para más análisis visita www.noga.es/paragliding © 2025 Rafał Noga (3/5)</text></g>
   </g>
   <g id="legend_1">
    <g id="legtitle" transform="translate(-0.720 -0.432)">
     <text style="font-size: 10px; font-family: 'DejaVu Sans', 'Liberation Sans', sans-serif; text-anchor: start" x="16.38" y="300.318438" transform="rotate(-0 16.38 300.318438)">Las zonas seleccionadas de 200 km de diámetro tienen al menos una semana al año con un mínimo de 1 día volable en promedio.</text>
    </g>
    <g id="leghandle0" transform="translate(0.000 -0.072)">
     <path d="M 16.38 311.496562 
L 31.38 311.496562 
L 46.38 311.496562 
" style="fill: none; stroke: #000000; stroke-width: 2; stroke-linecap: square"/>
     <g>
      <path d="M31.38 315.739L35.623 311.497L31.38 307.254L27.137 311.497z" style="stroke: #000000; stroke-linejoin: miter"/>
     </g>
    </g>
    <g id="legtext0" transform="translate(-2.448 -0.792)">
     <text style="font-size: 10px; font-family: 'DejaVu Sans', 'Liberation Sans', sans-serif; text-anchor: start" x="54.38" y="314.996562" transform="rotate(-0 54.38 314.996562)">Bulgaria, Bulgaria Central: Sopot, Dobrostan, Brestovitsa, Zlatica, ...</text>
    </g>
    <g id="leghandle1" transform="translate(0.000 0.648)">
     <path d="M 16.38 326.574687 
L 31.38 326.574687 
L 46.38 326.574687 
" style="fill: none; stroke: #ff0000; stroke-width: 2; stroke-linecap: square"/>
     <g>
      <path d="M31.38 330.817L35.623 326.575L31.38 322.332L27.137 326.575z" style="fill: #ff0000; stroke: #ff0000; stroke-linejoin: miter"/>
     </g>
    </g>
    <g id="legtext1" transform="translate(-2.448 0.000)">
     <text style="font-size: 10px; font-family: 'DejaVu Sans', 'Liberation Sans', sans-serif; text-anchor: start" x="54.38" y="330.074687" transform="rotate(-0 54.38 330.074687)">España, Extremadura: Zarza Capilla, Montánchez, Guadalcanal</text>
    </g>
    <g id="leghandle2" transform="translate(0.000 1.368)">
     <path d="M 16.38 341.252813 
L 31.38 341.252813 
L 46.38 341.252813 
" style="fill: none; stroke: #008000; stroke-width: 2; stroke-linecap: square"/>
     <g>
      <path d="M31.38 345.495L35.623 341.253L31.38 337.01L27.137 341.253z" style="fill: #008000; stroke: #008000; stroke-linejoin: miter"/>
     </g>
    </g>
    <g id="legtext2" transform="translate(-2.448 0.720)">
     <text style="font-size: 10px; font-family: 'DejaVu Sans', 'Liberation Sans', sans-serif; text-anchor: start" x="54.38" y="344.752813" transform="rotate(-0 54.38 344.752813)">Italia, Prealpes Lombardos: Cornizzolo, Monte Maddalena, Valcava, Ganda, ...</text>
    </g>
    <g id="leghandle3" transform="translate(0.000 2.088)">
     <path d="M 16.38 355.930938 
L 31.38 355.930938 
L 46.38 355.930938 
" style="fill: none; stroke: #0000ff; stroke-width: 2; stroke-linecap: square"/>
     <g>
      <path d="M31.38 360.174L35.623 355.931L31.38 351.688L27.137 355.931z" style="fill: #0000ff; stroke: #0000ff; stroke-linejoin: miter"/>
     </g>
    </g>
    <g id="legtext3" transform="translate(-2.448 0.936)">
     <text style="font-size: 10px; font-family: 'DejaVu Sans', 'Liberation Sans', sans-serif; text-anchor: start" x="54.38" y="359.430938" transform="rotate(-0 54.38 359.430938)">Canadá, Columbia Británica: Mount 7, MacKenzie, Lookout</text>
    </g>
    <g id="leghandle4" transform="translate(0.000 2.088)">
     <path d="M 16.38 371.009063 
L 31.38 371.009063 
L 46.38 371.009063 
" style="fill: none; stroke: #00bfbf; stroke-width: 2; stroke-linecap: square"/>
     <g>
      <path d="M31.38 375.252L35.623 371.009L31.38 366.766L27.137 371.009z" style="fill: #00bfbf; stroke: #00bfbf; stroke-linejoin: miter"/>
     </g>
    </g>
    <g id="legtext4" transform="translate(-2.448 1.656)">
     <text style="font-size: 10px; font-family: 'DejaVu Sans', 'Liberation Sans', sans-serif; text-anchor: start" x="54.38" y="374.509063" transform="rotate(-0 54.38 374.509063)">Eslovaquia, Cárpatos Occidentales: Martinské hole, Donovaly, Kubínska hoľa, Horná Súča, ...</text>
    </g>
    <g id="leghandle5" transform="translate(0.000 2.088)">
     <path d="M 16.38 387.340313 
L 31.38 387.340313 
L 46.38 387.340313 
" style="fill: none; stroke: #bf00bf; stroke-width: 2; stroke-linecap: square"/>
     <g>
      <path d="M31.38 391.583L35.623 387.34L31.38 383.098L27.137 387.34z" style="fill: #bf00bf; stroke: #bf00bf; stroke-linejoin: miter"/>
     </g>
    </g>
    <g id="legtext5" transform="translate(-2.448 1.440)">
     <text style="font-size: 10px; font-family: 'DejaVu Sans', 'Liberation Sans', sans-serif; text-anchor: start" x="54.38" y="390.840313" transform="rotate(-0 54.38 390.840313)">Hungría, Transdanubia: Kocs, Vértesszőlős, Szokolya, Óbuda, Tardos, ...</text>
    </g>
    <g id="leghandle6" transform="translate(0.000 2.808)">
     <path d="M 16.38 402.418438 
L 31.38 402.418438 
L 46.38 402.418438 
" style="fill: none; stroke-dasharray: 7.4,3.2; stroke-dashoffset: 0; stroke: #000000; stroke-width: 2"/>
     <g>
      <circle cx="31.38" cy="402.418" r="3" style="stroke: #000000"/>
     </g>
    </g>
    <g id="legtext6" transform="translate(-2.448 2.232)">
     <text style="font-size: 10px; font-family: 'DejaVu Sans', 'Liberation Sans', sans-serif; text-anchor: start" x="54.38" y="405.918438" transform="rotate(-0 54.38 405.918438)">Sudáfrica, Cabo Occidental: Porterville, Du Toit's Kloof, Piketberg, Bain's Kloof, ...</text>
    </g>
    <g id="leghandle7" transform="translate(0.000 2.808)">
     <path d="M 16.38 418.759063 
L 31.38 418.759063 
L 46.38 418.759063 
" style="fill: none; stroke-dasharray: 7.4,3.2; stroke-dashoffset: 0; stroke: #ff0000; stroke-width: 2"/>
     <g>
      <circle cx="31.38" cy="418.759" r="3" style="fill: #ff0000; stroke: #ff0000"/>
     </g>
    </g>
    <g id="legtext7" transform="translate(-2.448 2.592)">
     <text style="font-size: 10px; font-family: 'DejaVu Sans', 'Liberation Sans', sans-serif; text-anchor: start" x="54.38" y="422.259063" transform="rotate(-0 54.38 422.259063)">Chequia, Bohemia: Krupka, Kozákov, Raná, Čerťák, Oblík, Rašovka, ...</text>
    </g>
    <g id="leghandle8" transform="translate(0.000 3.528)">
     <path d="M 16.38 433.837188 
L 31.38 433.837188 
L 46.38 433.837188 
" style="fill: none; stroke-dasharray: 7.4,3.2; stroke-dashoffset: 0; stroke: #008000; stroke-width: 2"/>
     <g>
      <circle cx="31.38" cy="433.837" r="3" style="fill: #008000; stroke: #008000"/>
     </g>
    </g>
    <g id="legtext8" transform="translate(-2.448 3.096)">
     <text style="font-size: 10px; font-family: 'DejaVu Sans', 'Liberation Sans', sans-serif; text-anchor: start" x="54.38" y="437.337188" transform="rotate(-0 54.38 437.337188)">España, Sureste: El Yelmo, Zarcilla de Ramos, Perico Ruiz, La Golilla, Huéscar, ...</text>
    </g>
    <g id="leghandle9" transform="translate(0.000 4.248)">
     <path d="M 16.38 448.515313 
L 31.38 448.515313 
L 46.38 448.515313 
" style="fill: none; stroke-dasharray: 7.4,3.2; stroke-dashoffset: 0; stroke: #0000ff; stroke-width: 2"/>
     <g>
      <circle cx="31.38" cy="448.515" r="3" style="fill: #0000ff; stroke: #0000ff"/>
     </g>
    </g>
    <g id="legtext9" transform="translate(-2.448 3.816)">
     <text style="font-size: 10px; font-family: 'DejaVu Sans', 'Liberation Sans', sans-serif; text-anchor: start" x="54.38" y="452.015313" transform="rotate(-0 54.38 452.015313)">Italia, Apeninos Centrales: Serrone, Norma, Alvito, Campo Staffi, Monte Viglio, ...</text>
    </g>
    <g id="leghandle10" transform="translate(0.000 4.968)">
     <path d="M 16.38 463.193438 
L 31.38 463.193438 
L 46.38 463.193438 
" style="fill: none; stroke-dasharray: 7.4,3.2; stroke-dashoffset: 0; stroke: #00bfbf; stroke-width: 2"/>
     <g>
      <circle cx="31.38" cy="463.193" r="3" style="fill: #00bfbf; stroke: #00bfbf"/>
     </g>
    </g>
    <g id="legtext10" transform="translate(-2.448 4.608)">
     <text style="font-size: 10px; font-family: 'DejaVu Sans', 'Liberation Sans', sans-serif; text-anchor: start" x="54.38" y="466.693438" transform="rotate(-0 54.38 466.693438)">EE.UU., Texas: Hearne</text>
    </g>
    <g id="leghandle11" transform="translate(0.000 4.680)">
     <path d="M 16.38 479.534063 
L 31.38 479.534063 
L 46.38 479.534063 
" style="fill: none; stroke-dasharray: 7.4,3.2; stroke-dashoffset: 0; stroke: #bf00bf; stroke-width: 2"/>
     <g>
      <circle cx="31.38" cy="479.534" r="3" style="fill: #bf00bf; stroke: #bf00bf"/>
     </g>
    </g>
    <g id="legtext11" transform="translate(-2.448 4.464)">
     <text style="font-size: 10px; font-family: 'DejaVu Sans', 'Liberation Sans', sans-serif; text-anchor: start" x="54.38" y="483.034063" transform="rotate(-0 54.38 483.034063)">Chequia&amp;Polonia, Sudetes: Černá hora, Lysá hora, Kopa, Zvičina, Srebrna Góra, Mieroszów, ...</text>
    </g>
   </g>
  </g>
 </g>
 <defs>
  <clipPath id="p76684aa1a0">
   <rect x="48.6" y="56.52" width="622.08" height="181.44"/>
  </clipPath>
 </defs>
</svg>

</body></html>
